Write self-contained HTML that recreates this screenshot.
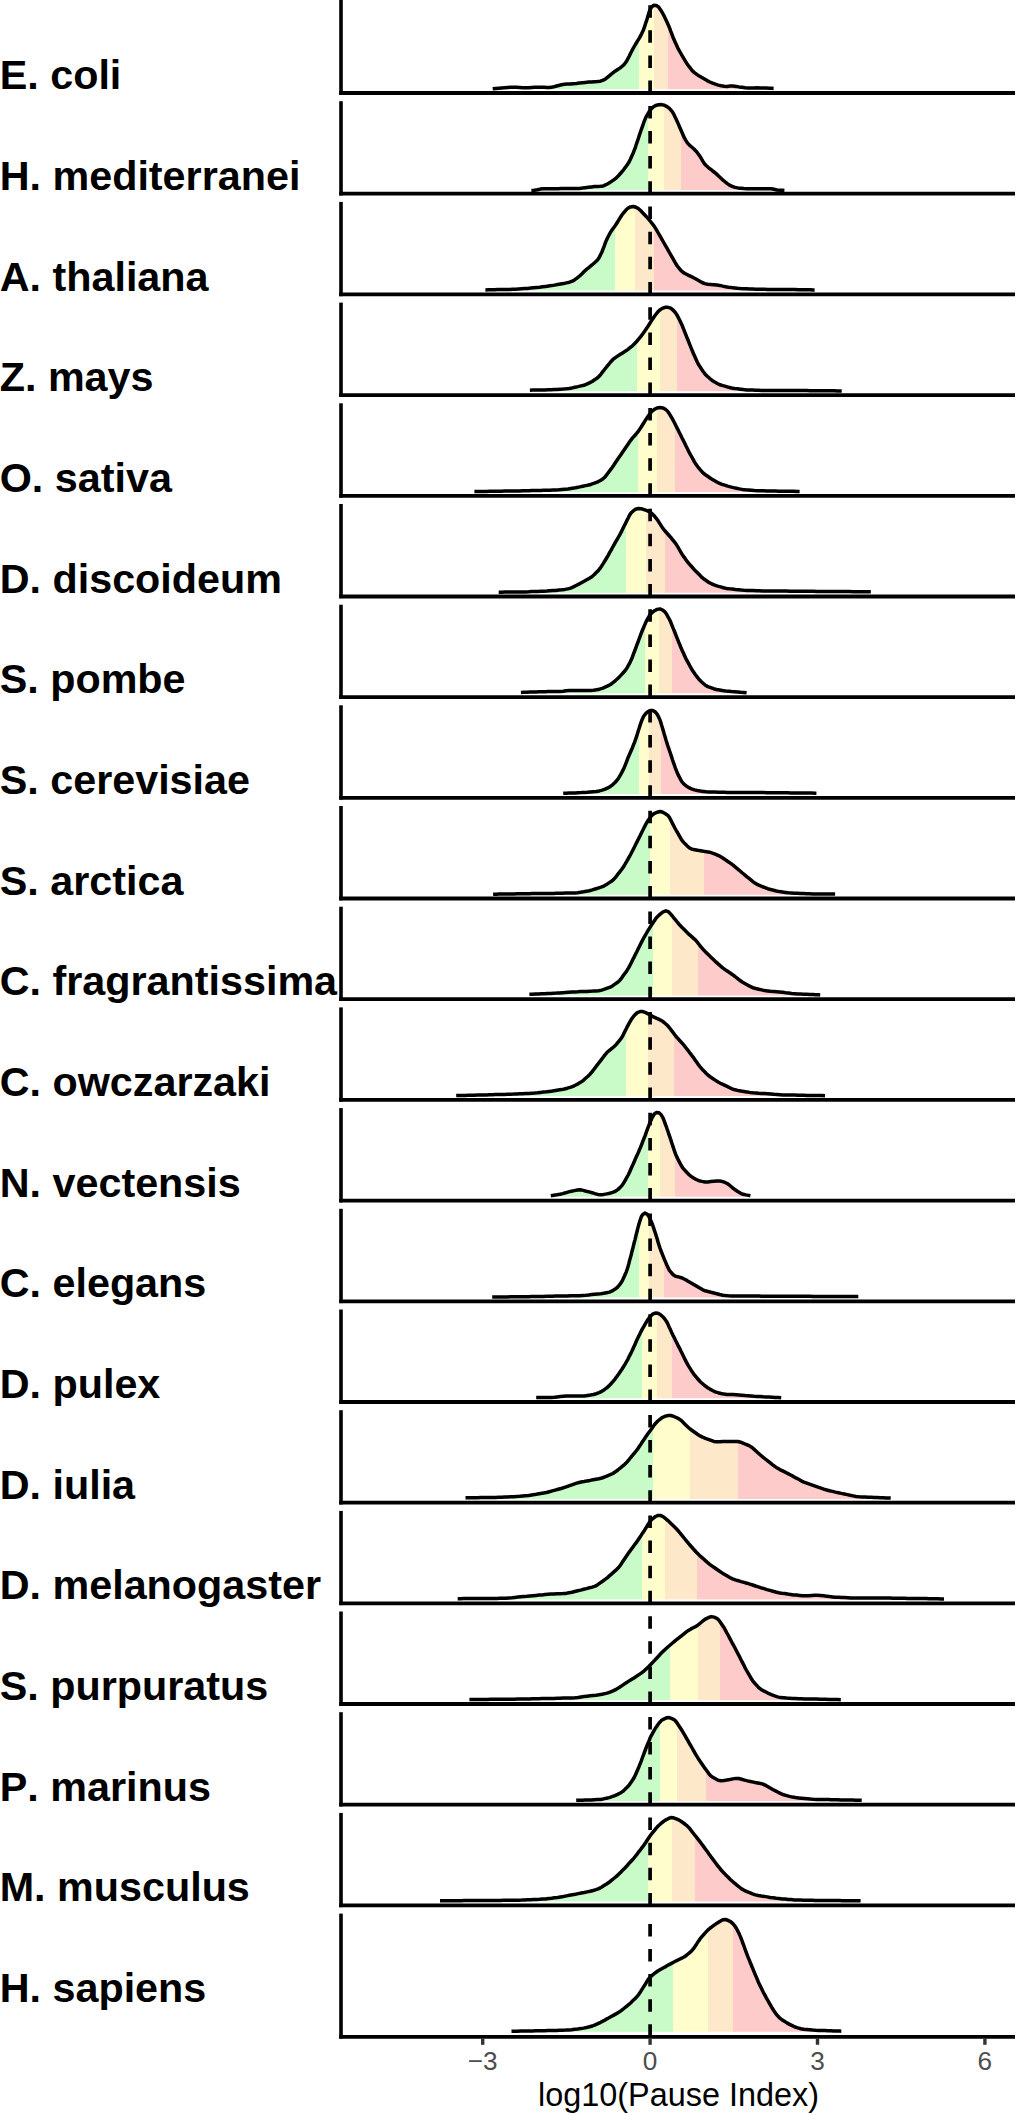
<!DOCTYPE html><html><head><meta charset="utf-8"><style>html,body{margin:0;padding:0;background:#fff;}svg{display:block;}text{font-family:"Liberation Sans",sans-serif;font-kerning:none;}</style></head><body>
<svg width="1016" height="2115" viewBox="0 0 1016 2115">
<rect width="1016" height="2115" fill="#fff"/>
<defs><linearGradient id="g0" gradientUnits="userSpaceOnUse" x1="341" y1="0" x2="1015" y2="0"><stop offset="0.00000" stop-color="#c9fbc9"/><stop offset="0.44214" stop-color="#c9fbc9"/><stop offset="0.44214" stop-color="#fffdcb"/><stop offset="0.46395" stop-color="#fffdcb"/><stop offset="0.46395" stop-color="#fde8c9"/><stop offset="0.48561" stop-color="#fde8c9"/><stop offset="0.48561" stop-color="#fecbcb"/><stop offset="1.00000" stop-color="#fecbcb"/></linearGradient><linearGradient id="g1" gradientUnits="userSpaceOnUse" x1="341" y1="0" x2="1015" y2="0"><stop offset="0.00000" stop-color="#c9fbc9"/><stop offset="0.45608" stop-color="#c9fbc9"/><stop offset="0.45608" stop-color="#fffdcb"/><stop offset="0.47938" stop-color="#fffdcb"/><stop offset="0.47938" stop-color="#fde8c9"/><stop offset="0.50490" stop-color="#fde8c9"/><stop offset="0.50490" stop-color="#fecbcb"/><stop offset="1.00000" stop-color="#fecbcb"/></linearGradient><linearGradient id="g2" gradientUnits="userSpaceOnUse" x1="341" y1="0" x2="1015" y2="0"><stop offset="0.00000" stop-color="#c9fbc9"/><stop offset="0.40697" stop-color="#c9fbc9"/><stop offset="0.40697" stop-color="#fffdcb"/><stop offset="0.43665" stop-color="#fffdcb"/><stop offset="0.43665" stop-color="#fde8c9"/><stop offset="0.46424" stop-color="#fde8c9"/><stop offset="0.46424" stop-color="#fecbcb"/><stop offset="1.00000" stop-color="#fecbcb"/></linearGradient><linearGradient id="g3" gradientUnits="userSpaceOnUse" x1="341" y1="0" x2="1015" y2="0"><stop offset="0.00000" stop-color="#c9fbc9"/><stop offset="0.43872" stop-color="#c9fbc9"/><stop offset="0.43872" stop-color="#fffdcb"/><stop offset="0.47344" stop-color="#fffdcb"/><stop offset="0.47344" stop-color="#fde8c9"/><stop offset="0.49896" stop-color="#fde8c9"/><stop offset="0.49896" stop-color="#fecbcb"/><stop offset="1.00000" stop-color="#fecbcb"/></linearGradient><linearGradient id="g4" gradientUnits="userSpaceOnUse" x1="341" y1="0" x2="1015" y2="0"><stop offset="0.00000" stop-color="#c9fbc9"/><stop offset="0.44139" stop-color="#c9fbc9"/><stop offset="0.44139" stop-color="#fffdcb"/><stop offset="0.46958" stop-color="#fffdcb"/><stop offset="0.46958" stop-color="#fde8c9"/><stop offset="0.49555" stop-color="#fde8c9"/><stop offset="0.49555" stop-color="#fecbcb"/><stop offset="1.00000" stop-color="#fecbcb"/></linearGradient><linearGradient id="g5" gradientUnits="userSpaceOnUse" x1="341" y1="0" x2="1015" y2="0"><stop offset="0.00000" stop-color="#c9fbc9"/><stop offset="0.42300" stop-color="#c9fbc9"/><stop offset="0.42300" stop-color="#fffdcb"/><stop offset="0.45193" stop-color="#fffdcb"/><stop offset="0.45193" stop-color="#fde8c9"/><stop offset="0.48145" stop-color="#fde8c9"/><stop offset="0.48145" stop-color="#fecbcb"/><stop offset="1.00000" stop-color="#fecbcb"/></linearGradient><linearGradient id="g6" gradientUnits="userSpaceOnUse" x1="341" y1="0" x2="1015" y2="0"><stop offset="0.00000" stop-color="#c9fbc9"/><stop offset="0.45045" stop-color="#c9fbc9"/><stop offset="0.45045" stop-color="#fffdcb"/><stop offset="0.47181" stop-color="#fffdcb"/><stop offset="0.47181" stop-color="#fde8c9"/><stop offset="0.49139" stop-color="#fde8c9"/><stop offset="0.49139" stop-color="#fecbcb"/><stop offset="1.00000" stop-color="#fecbcb"/></linearGradient><linearGradient id="g7" gradientUnits="userSpaceOnUse" x1="341" y1="0" x2="1015" y2="0"><stop offset="0.00000" stop-color="#c9fbc9"/><stop offset="0.44169" stop-color="#c9fbc9"/><stop offset="0.44169" stop-color="#fffdcb"/><stop offset="0.45742" stop-color="#fffdcb"/><stop offset="0.45742" stop-color="#fde8c9"/><stop offset="0.47404" stop-color="#fde8c9"/><stop offset="0.47404" stop-color="#fecbcb"/><stop offset="1.00000" stop-color="#fecbcb"/></linearGradient><linearGradient id="g8" gradientUnits="userSpaceOnUse" x1="341" y1="0" x2="1015" y2="0"><stop offset="0.00000" stop-color="#c9fbc9"/><stop offset="0.45846" stop-color="#c9fbc9"/><stop offset="0.45846" stop-color="#fffdcb"/><stop offset="0.48828" stop-color="#fffdcb"/><stop offset="0.48828" stop-color="#fde8c9"/><stop offset="0.53828" stop-color="#fde8c9"/><stop offset="0.53828" stop-color="#fecbcb"/><stop offset="1.00000" stop-color="#fecbcb"/></linearGradient><linearGradient id="g9" gradientUnits="userSpaceOnUse" x1="341" y1="0" x2="1015" y2="0"><stop offset="0.00000" stop-color="#c9fbc9"/><stop offset="0.46320" stop-color="#c9fbc9"/><stop offset="0.46320" stop-color="#fffdcb"/><stop offset="0.49125" stop-color="#fffdcb"/><stop offset="0.49125" stop-color="#fde8c9"/><stop offset="0.52967" stop-color="#fde8c9"/><stop offset="0.52967" stop-color="#fecbcb"/><stop offset="1.00000" stop-color="#fecbcb"/></linearGradient><linearGradient id="g10" gradientUnits="userSpaceOnUse" x1="341" y1="0" x2="1015" y2="0"><stop offset="0.00000" stop-color="#c9fbc9"/><stop offset="0.42300" stop-color="#c9fbc9"/><stop offset="0.42300" stop-color="#fffdcb"/><stop offset="0.45593" stop-color="#fffdcb"/><stop offset="0.45593" stop-color="#fde8c9"/><stop offset="0.49451" stop-color="#fde8c9"/><stop offset="0.49451" stop-color="#fecbcb"/><stop offset="1.00000" stop-color="#fecbcb"/></linearGradient><linearGradient id="g11" gradientUnits="userSpaceOnUse" x1="341" y1="0" x2="1015" y2="0"><stop offset="0.00000" stop-color="#c9fbc9"/><stop offset="0.45593" stop-color="#c9fbc9"/><stop offset="0.45593" stop-color="#fffdcb"/><stop offset="0.47300" stop-color="#fffdcb"/><stop offset="0.47300" stop-color="#fde8c9"/><stop offset="0.49599" stop-color="#fde8c9"/><stop offset="0.49599" stop-color="#fecbcb"/><stop offset="1.00000" stop-color="#fecbcb"/></linearGradient><linearGradient id="g12" gradientUnits="userSpaceOnUse" x1="341" y1="0" x2="1015" y2="0"><stop offset="0.00000" stop-color="#c9fbc9"/><stop offset="0.44199" stop-color="#c9fbc9"/><stop offset="0.44199" stop-color="#fffdcb"/><stop offset="0.45697" stop-color="#fffdcb"/><stop offset="0.45697" stop-color="#fde8c9"/><stop offset="0.47938" stop-color="#fde8c9"/><stop offset="0.47938" stop-color="#fecbcb"/><stop offset="1.00000" stop-color="#fecbcb"/></linearGradient><linearGradient id="g13" gradientUnits="userSpaceOnUse" x1="341" y1="0" x2="1015" y2="0"><stop offset="0.00000" stop-color="#c9fbc9"/><stop offset="0.44659" stop-color="#c9fbc9"/><stop offset="0.44659" stop-color="#fffdcb"/><stop offset="0.46899" stop-color="#fffdcb"/><stop offset="0.46899" stop-color="#fde8c9"/><stop offset="0.49110" stop-color="#fde8c9"/><stop offset="0.49110" stop-color="#fecbcb"/><stop offset="1.00000" stop-color="#fecbcb"/></linearGradient><linearGradient id="g14" gradientUnits="userSpaceOnUse" x1="341" y1="0" x2="1015" y2="0"><stop offset="0.00000" stop-color="#c9fbc9"/><stop offset="0.46335" stop-color="#c9fbc9"/><stop offset="0.46335" stop-color="#fffdcb"/><stop offset="0.51840" stop-color="#fffdcb"/><stop offset="0.51840" stop-color="#fde8c9"/><stop offset="0.58961" stop-color="#fde8c9"/><stop offset="0.58961" stop-color="#fecbcb"/><stop offset="1.00000" stop-color="#fecbcb"/></linearGradient><linearGradient id="g15" gradientUnits="userSpaceOnUse" x1="341" y1="0" x2="1015" y2="0"><stop offset="0.00000" stop-color="#c9fbc9"/><stop offset="0.44703" stop-color="#c9fbc9"/><stop offset="0.44703" stop-color="#fffdcb"/><stop offset="0.48145" stop-color="#fffdcb"/><stop offset="0.48145" stop-color="#fde8c9"/><stop offset="0.52819" stop-color="#fde8c9"/><stop offset="0.52819" stop-color="#fecbcb"/><stop offset="1.00000" stop-color="#fecbcb"/></linearGradient><linearGradient id="g16" gradientUnits="userSpaceOnUse" x1="341" y1="0" x2="1015" y2="0"><stop offset="0.00000" stop-color="#c9fbc9"/><stop offset="0.48813" stop-color="#c9fbc9"/><stop offset="0.48813" stop-color="#fffdcb"/><stop offset="0.53012" stop-color="#fffdcb"/><stop offset="0.53012" stop-color="#fde8c9"/><stop offset="0.56246" stop-color="#fde8c9"/><stop offset="0.56246" stop-color="#fecbcb"/><stop offset="1.00000" stop-color="#fecbcb"/></linearGradient><linearGradient id="g17" gradientUnits="userSpaceOnUse" x1="341" y1="0" x2="1015" y2="0"><stop offset="0.00000" stop-color="#c9fbc9"/><stop offset="0.47270" stop-color="#c9fbc9"/><stop offset="0.47270" stop-color="#fffdcb"/><stop offset="0.49852" stop-color="#fffdcb"/><stop offset="0.49852" stop-color="#fde8c9"/><stop offset="0.54184" stop-color="#fde8c9"/><stop offset="0.54184" stop-color="#fecbcb"/><stop offset="1.00000" stop-color="#fecbcb"/></linearGradient><linearGradient id="g18" gradientUnits="userSpaceOnUse" x1="341" y1="0" x2="1015" y2="0"><stop offset="0.00000" stop-color="#c9fbc9"/><stop offset="0.45564" stop-color="#c9fbc9"/><stop offset="0.45564" stop-color="#fffdcb"/><stop offset="0.49095" stop-color="#fffdcb"/><stop offset="0.49095" stop-color="#fde8c9"/><stop offset="0.52537" stop-color="#fde8c9"/><stop offset="0.52537" stop-color="#fecbcb"/><stop offset="1.00000" stop-color="#fecbcb"/></linearGradient><linearGradient id="g19" gradientUnits="userSpaceOnUse" x1="341" y1="0" x2="1015" y2="0"><stop offset="0.00000" stop-color="#c9fbc9"/><stop offset="0.49273" stop-color="#c9fbc9"/><stop offset="0.49273" stop-color="#fffdcb"/><stop offset="0.54466" stop-color="#fffdcb"/><stop offset="0.54466" stop-color="#fde8c9"/><stop offset="0.58160" stop-color="#fde8c9"/><stop offset="0.58160" stop-color="#fecbcb"/><stop offset="1.00000" stop-color="#fecbcb"/></linearGradient></defs>
<path d="M492.7,88.8 495.7,88.5 498.7,88.2 501.7,87.9 504.7,87.7 507.7,87.5 510.7,87.3 513.7,87.2 516.7,87.3 519.7,87.5 522.7,87.7 525.7,87.8 528.7,87.7 531.8,87.5 534.8,87.3 537.8,87.2 540.8,87.2 543.8,87.3 546.8,87.4 549.8,87.4 552.8,87.1 555.7,86.3 558.6,85.5 561.5,84.8 564.4,84.2 567.4,84.0 570.4,83.9 573.4,83.7 576.4,83.5 579.4,83.1 582.4,82.7 585.4,82.4 588.4,82.1 591.4,81.9 594.4,81.7 597.4,81.5 600.4,81.2 603.2,80.2 605.8,78.7 608.1,76.8 610.4,74.9 612.7,73.0 615.1,71.2 617.7,69.5 620.2,67.9 622.5,66.0 624.6,63.9 626.4,61.5 627.8,58.9 629.2,56.2 630.5,53.5 631.9,50.8 633.3,48.1 634.8,45.5 636.3,43.0 637.9,40.4 639.5,37.8 640.9,35.2 642.2,32.5 643.5,29.7 644.5,26.9 645.4,24.0 646.4,21.2 647.3,18.3 648.1,15.4 649.0,12.5 650.1,9.7 651.5,7.1 653.6,5.3 656.2,5.4 658.6,7.0 660.3,9.4 661.9,12.0 663.4,14.6 664.7,17.3 666.0,20.0 667.3,22.8 668.5,25.5 669.7,28.3 670.7,31.1 671.8,33.9 672.8,36.7 674.0,39.5 675.2,42.3 676.5,45.0 677.7,47.7 679.1,50.4 680.6,53.0 682.1,55.7 683.6,58.2 685.2,60.8 686.8,63.4 688.5,65.8 690.4,68.2 692.2,70.6 694.4,72.6 696.8,74.4 699.3,76.1 701.9,77.6 704.5,79.1 707.1,80.6 709.8,82.0 712.6,83.2 715.4,84.2 718.3,85.1 721.2,85.8 724.2,86.3 727.1,86.4 730.1,86.1 733.1,86.0 736.1,86.4 739.0,86.9 742.0,87.3 745.0,87.7 748.0,87.9 751.0,87.9 754.0,87.9 757.0,87.8 760.1,87.9 763.1,88.0 766.1,88.1 769.1,88.2 772.0,88.3 773.6,88.4 L773.6,89.2 L492.7,89.2 Z" fill="url(#g0)"/>
<line x1="650.1" y1="93.0" x2="650.1" y2="0.0" stroke="#000" stroke-width="3.7" stroke-dasharray="12.5 12.6"/>
<path d="M492.7,88.8 495.7,88.5 498.7,88.2 501.7,87.9 504.7,87.7 507.7,87.5 510.7,87.3 513.7,87.2 516.7,87.3 519.7,87.5 522.7,87.7 525.7,87.8 528.7,87.7 531.8,87.5 534.8,87.3 537.8,87.2 540.8,87.2 543.8,87.3 546.8,87.4 549.8,87.4 552.8,87.1 555.7,86.3 558.6,85.5 561.5,84.8 564.4,84.2 567.4,84.0 570.4,83.9 573.4,83.7 576.4,83.5 579.4,83.1 582.4,82.7 585.4,82.4 588.4,82.1 591.4,81.9 594.4,81.7 597.4,81.5 600.4,81.2 603.2,80.2 605.8,78.7 608.1,76.8 610.4,74.9 612.7,73.0 615.1,71.2 617.7,69.5 620.2,67.9 622.5,66.0 624.6,63.9 626.4,61.5 627.8,58.9 629.2,56.2 630.5,53.5 631.9,50.8 633.3,48.1 634.8,45.5 636.3,43.0 637.9,40.4 639.5,37.8 640.9,35.2 642.2,32.5 643.5,29.7 644.5,26.9 645.4,24.0 646.4,21.2 647.3,18.3 648.1,15.4 649.0,12.5 650.1,9.7 651.5,7.1 653.6,5.3 656.2,5.4 658.6,7.0 660.3,9.4 661.9,12.0 663.4,14.6 664.7,17.3 666.0,20.0 667.3,22.8 668.5,25.5 669.7,28.3 670.7,31.1 671.8,33.9 672.8,36.7 674.0,39.5 675.2,42.3 676.5,45.0 677.7,47.7 679.1,50.4 680.6,53.0 682.1,55.7 683.6,58.2 685.2,60.8 686.8,63.4 688.5,65.8 690.4,68.2 692.2,70.6 694.4,72.6 696.8,74.4 699.3,76.1 701.9,77.6 704.5,79.1 707.1,80.6 709.8,82.0 712.6,83.2 715.4,84.2 718.3,85.1 721.2,85.8 724.2,86.3 727.1,86.4 730.1,86.1 733.1,86.0 736.1,86.4 739.0,86.9 742.0,87.3 745.0,87.7 748.0,87.9 751.0,87.9 754.0,87.9 757.0,87.8 760.1,87.9 763.1,88.0 766.1,88.1 769.1,88.2 772.0,88.3 773.6,88.4" fill="none" stroke="#000" stroke-width="3.5" stroke-linejoin="round" stroke-linecap="butt"/>
<line x1="341" y1="0.0" x2="341" y2="94.8" stroke="#000" stroke-width="3.6"/>
<line x1="339.2" y1="93.0" x2="1015" y2="93.0" stroke="#000" stroke-width="3.8"/>
<text x="-0.3" y="89.4" font-size="41.3" font-weight="bold" fill="#000">E. coli</text>
<path d="M531.4,190.4 534.4,190.3 537.4,189.8 540.3,189.1 543.2,188.8 546.3,188.7 549.3,188.7 552.3,188.7 555.3,188.7 558.3,188.7 561.3,188.6 564.3,188.6 567.4,188.6 570.4,188.6 573.4,188.5 576.4,188.5 579.4,188.4 582.4,188.1 585.4,187.7 588.4,187.3 591.4,186.9 594.4,186.6 597.4,186.4 600.4,186.3 603.3,185.9 606.0,184.7 608.7,183.3 611.2,181.6 613.7,179.9 616.1,178.1 618.2,176.0 620.2,173.8 622.2,171.5 624.1,169.1 625.8,166.7 627.6,164.2 629.2,161.7 630.5,159.0 631.7,156.3 633.0,153.5 634.1,150.7 635.2,147.9 636.1,145.0 637.1,142.2 638.1,139.3 639.0,136.5 639.9,133.6 640.9,130.7 641.9,127.9 642.9,125.1 643.9,122.2 645.0,119.4 646.2,116.7 647.7,114.1 649.3,111.5 651.1,109.1 653.2,107.0 655.7,105.5 658.6,104.7 661.5,104.6 664.4,105.2 667.0,106.6 669.4,108.4 671.4,110.6 673.1,113.1 674.5,115.7 675.8,118.4 677.1,121.2 678.3,123.9 679.5,126.7 680.7,129.5 681.9,132.2 683.1,135.0 684.3,137.7 685.8,140.4 687.4,142.9 689.4,145.1 691.7,147.0 694.0,149.0 696.1,151.2 697.9,153.5 699.7,155.9 701.3,158.5 702.8,161.1 704.4,163.7 706.4,165.8 708.7,167.8 711.1,169.7 713.4,171.5 715.8,173.4 718.0,175.4 720.2,177.5 722.4,179.6 724.7,181.5 727.0,183.4 729.5,185.1 732.2,186.4 735.0,187.4 737.9,187.9 740.9,188.2 743.9,188.5 746.9,188.7 750.0,188.8 753.0,188.8 756.0,188.8 759.0,188.8 762.0,188.8 765.0,188.8 768.0,188.8 771.0,188.8 774.0,189.3 776.9,190.0 779.9,190.2 782.8,190.3 784.4,190.4 L784.4,189.9 L531.4,189.9 Z" fill="url(#g1)"/>
<line x1="650.1" y1="193.7" x2="650.1" y2="101.2" stroke="#000" stroke-width="3.7" stroke-dasharray="12.5 12.6"/>
<path d="M531.4,190.4 534.4,190.3 537.4,189.8 540.3,189.1 543.2,188.8 546.3,188.7 549.3,188.7 552.3,188.7 555.3,188.7 558.3,188.7 561.3,188.6 564.3,188.6 567.4,188.6 570.4,188.6 573.4,188.5 576.4,188.5 579.4,188.4 582.4,188.1 585.4,187.7 588.4,187.3 591.4,186.9 594.4,186.6 597.4,186.4 600.4,186.3 603.3,185.9 606.0,184.7 608.7,183.3 611.2,181.6 613.7,179.9 616.1,178.1 618.2,176.0 620.2,173.8 622.2,171.5 624.1,169.1 625.8,166.7 627.6,164.2 629.2,161.7 630.5,159.0 631.7,156.3 633.0,153.5 634.1,150.7 635.2,147.9 636.1,145.0 637.1,142.2 638.1,139.3 639.0,136.5 639.9,133.6 640.9,130.7 641.9,127.9 642.9,125.1 643.9,122.2 645.0,119.4 646.2,116.7 647.7,114.1 649.3,111.5 651.1,109.1 653.2,107.0 655.7,105.5 658.6,104.7 661.5,104.6 664.4,105.2 667.0,106.6 669.4,108.4 671.4,110.6 673.1,113.1 674.5,115.7 675.8,118.4 677.1,121.2 678.3,123.9 679.5,126.7 680.7,129.5 681.9,132.2 683.1,135.0 684.3,137.7 685.8,140.4 687.4,142.9 689.4,145.1 691.7,147.0 694.0,149.0 696.1,151.2 697.9,153.5 699.7,155.9 701.3,158.5 702.8,161.1 704.4,163.7 706.4,165.8 708.7,167.8 711.1,169.7 713.4,171.5 715.8,173.4 718.0,175.4 720.2,177.5 722.4,179.6 724.7,181.5 727.0,183.4 729.5,185.1 732.2,186.4 735.0,187.4 737.9,187.9 740.9,188.2 743.9,188.5 746.9,188.7 750.0,188.8 753.0,188.8 756.0,188.8 759.0,188.8 762.0,188.8 765.0,188.8 768.0,188.8 771.0,188.8 774.0,189.3 776.9,190.0 779.9,190.2 782.8,190.3 784.4,190.4" fill="none" stroke="#000" stroke-width="3.5" stroke-linejoin="round" stroke-linecap="butt"/>
<line x1="341" y1="101.2" x2="341" y2="195.5" stroke="#000" stroke-width="3.6"/>
<line x1="339.2" y1="193.7" x2="1015" y2="193.7" stroke="#000" stroke-width="3.8"/>
<text x="-0.3" y="190.1" font-size="41.3" font-weight="bold" fill="#000">H. mediterranei</text>
<path d="M485.4,289.9 488.4,289.8 491.4,289.8 494.5,289.7 497.5,289.6 500.5,289.6 503.5,289.5 506.5,289.5 509.6,289.4 512.6,289.3 515.6,289.2 518.6,289.0 521.6,288.8 524.6,288.6 527.7,288.4 530.7,288.1 533.7,287.8 536.7,287.5 539.7,287.2 542.7,286.8 545.7,286.4 548.7,286.0 551.7,285.6 554.6,285.1 557.6,284.6 560.6,284.1 563.6,283.6 566.5,282.9 569.5,282.2 572.3,281.2 574.8,279.7 577.3,277.9 579.6,276.0 581.8,273.9 583.9,271.8 586.1,269.7 588.5,267.8 590.8,265.9 593.1,264.0 595.4,262.0 597.5,259.9 599.2,257.4 600.5,254.7 601.9,252.0 603.0,249.2 604.1,246.4 605.1,243.5 606.2,240.7 607.5,238.0 608.9,235.3 610.3,232.7 611.9,230.1 613.7,227.7 615.5,225.2 617.1,222.7 618.7,220.1 620.3,217.5 621.9,215.0 623.8,212.6 625.7,210.3 627.9,208.3 630.5,206.9 633.3,206.5 636.0,207.3 638.6,208.8 640.8,210.8 642.9,213.0 645.0,215.2 647.0,217.4 649.0,219.7 650.9,222.0 652.8,224.4 654.6,226.8 656.2,229.4 657.7,232.0 659.2,234.6 660.7,237.2 662.2,239.9 663.7,242.5 665.2,245.1 666.7,247.7 668.2,250.4 669.7,253.0 671.2,255.6 672.7,258.2 674.2,260.8 675.7,263.5 677.3,266.0 679.2,268.4 681.1,270.7 683.4,272.6 686.0,274.0 688.7,275.4 691.4,276.7 694.1,278.0 696.8,279.5 699.4,281.0 702.0,282.5 704.8,283.6 707.7,284.3 710.7,284.5 713.7,284.7 716.7,284.9 719.7,285.4 722.7,286.1 725.6,286.7 728.6,287.2 731.6,287.6 734.6,287.9 737.6,288.3 740.6,288.6 743.6,288.7 746.6,288.8 749.6,289.0 752.7,289.1 755.7,289.2 758.7,289.3 761.7,289.3 764.8,289.3 767.8,289.4 770.8,289.4 773.8,289.4 776.8,289.4 779.9,289.5 782.9,289.5 785.9,289.5 788.9,289.6 791.9,289.6 795.0,289.6 798.0,289.7 801.0,289.7 804.0,289.8 807.0,289.8 810.1,289.8 813.0,289.9 814.6,289.9 L814.6,290.6 L485.4,290.6 Z" fill="url(#g2)"/>
<line x1="650.1" y1="294.4" x2="650.1" y2="201.9" stroke="#000" stroke-width="3.7" stroke-dasharray="12.5 12.6"/>
<path d="M485.4,289.9 488.4,289.8 491.4,289.8 494.5,289.7 497.5,289.6 500.5,289.6 503.5,289.5 506.5,289.5 509.6,289.4 512.6,289.3 515.6,289.2 518.6,289.0 521.6,288.8 524.6,288.6 527.7,288.4 530.7,288.1 533.7,287.8 536.7,287.5 539.7,287.2 542.7,286.8 545.7,286.4 548.7,286.0 551.7,285.6 554.6,285.1 557.6,284.6 560.6,284.1 563.6,283.6 566.5,282.9 569.5,282.2 572.3,281.2 574.8,279.7 577.3,277.9 579.6,276.0 581.8,273.9 583.9,271.8 586.1,269.7 588.5,267.8 590.8,265.9 593.1,264.0 595.4,262.0 597.5,259.9 599.2,257.4 600.5,254.7 601.9,252.0 603.0,249.2 604.1,246.4 605.1,243.5 606.2,240.7 607.5,238.0 608.9,235.3 610.3,232.7 611.9,230.1 613.7,227.7 615.5,225.2 617.1,222.7 618.7,220.1 620.3,217.5 621.9,215.0 623.8,212.6 625.7,210.3 627.9,208.3 630.5,206.9 633.3,206.5 636.0,207.3 638.6,208.8 640.8,210.8 642.9,213.0 645.0,215.2 647.0,217.4 649.0,219.7 650.9,222.0 652.8,224.4 654.6,226.8 656.2,229.4 657.7,232.0 659.2,234.6 660.7,237.2 662.2,239.9 663.7,242.5 665.2,245.1 666.7,247.7 668.2,250.4 669.7,253.0 671.2,255.6 672.7,258.2 674.2,260.8 675.7,263.5 677.3,266.0 679.2,268.4 681.1,270.7 683.4,272.6 686.0,274.0 688.7,275.4 691.4,276.7 694.1,278.0 696.8,279.5 699.4,281.0 702.0,282.5 704.8,283.6 707.7,284.3 710.7,284.5 713.7,284.7 716.7,284.9 719.7,285.4 722.7,286.1 725.6,286.7 728.6,287.2 731.6,287.6 734.6,287.9 737.6,288.3 740.6,288.6 743.6,288.7 746.6,288.8 749.6,289.0 752.7,289.1 755.7,289.2 758.7,289.3 761.7,289.3 764.8,289.3 767.8,289.4 770.8,289.4 773.8,289.4 776.8,289.4 779.9,289.5 782.9,289.5 785.9,289.5 788.9,289.6 791.9,289.6 795.0,289.6 798.0,289.7 801.0,289.7 804.0,289.8 807.0,289.8 810.1,289.8 813.0,289.9 814.6,289.9" fill="none" stroke="#000" stroke-width="3.5" stroke-linejoin="round" stroke-linecap="butt"/>
<line x1="341" y1="201.9" x2="341" y2="296.2" stroke="#000" stroke-width="3.6"/>
<line x1="339.2" y1="294.4" x2="1015" y2="294.4" stroke="#000" stroke-width="3.8"/>
<text x="-0.3" y="290.7" font-size="41.3" font-weight="bold" fill="#000">A. thaliana</text>
<path d="M529.9,390.2 532.9,390.1 535.9,390.1 539.0,390.0 542.0,390.0 545.0,389.9 548.0,389.8 551.1,389.7 554.1,389.6 557.1,389.5 560.1,389.3 563.1,389.1 566.1,388.8 569.1,388.4 572.1,387.9 575.0,387.2 578.0,386.6 581.0,385.9 583.9,385.3 586.7,384.2 589.4,382.9 592.1,381.5 594.6,379.8 597.1,378.1 599.3,376.1 601.2,373.8 603.0,371.4 604.9,369.0 606.8,366.6 608.7,364.3 610.6,362.0 612.7,359.7 615.0,357.9 617.5,356.1 620.0,354.5 622.6,352.9 625.2,351.3 627.7,349.6 630.0,347.7 632.4,345.8 634.5,343.7 636.6,341.5 638.6,339.2 640.5,336.9 642.3,334.5 644.1,332.0 645.8,329.6 647.5,327.1 649.1,324.5 650.7,322.0 652.3,319.4 654.0,316.9 655.8,314.5 657.7,312.1 659.8,310.0 662.3,308.4 665.1,307.3 668.0,307.3 670.7,308.2 673.0,310.0 675.1,312.2 676.8,314.7 678.2,317.3 679.6,320.0 680.9,322.7 682.2,325.5 683.3,328.3 684.4,331.1 685.5,333.9 686.6,336.7 687.8,339.5 688.9,342.3 690.0,345.1 691.1,347.9 692.3,350.7 693.4,353.5 694.7,356.3 695.9,359.0 697.1,361.8 698.5,364.5 700.2,367.0 701.8,369.5 703.5,372.0 705.4,374.4 707.6,376.5 709.8,378.5 712.1,380.4 714.7,382.0 717.3,383.5 720.0,384.8 722.8,385.6 725.7,386.4 728.6,387.3 731.5,388.0 734.5,388.5 737.5,388.8 740.5,389.2 743.5,389.6 746.5,389.9 749.5,390.1 752.5,390.1 755.6,390.2 758.6,390.3 761.6,390.4 764.6,390.4 767.6,390.5 770.7,390.6 773.7,390.6 776.7,390.6 779.7,390.6 782.8,390.6 785.8,390.6 788.8,390.6 791.8,390.6 794.8,390.6 797.9,390.6 800.9,390.6 803.9,390.6 806.9,390.6 810.0,390.7 813.0,390.7 816.0,390.7 819.0,390.7 822.1,390.8 825.1,390.8 828.1,390.8 831.1,390.8 834.1,390.8 837.2,390.9 840.1,390.9 841.7,390.9 L841.7,391.3 L529.9,391.3 Z" fill="url(#g3)"/>
<line x1="650.1" y1="395.1" x2="650.1" y2="302.6" stroke="#000" stroke-width="3.7" stroke-dasharray="12.5 12.6"/>
<path d="M529.9,390.2 532.9,390.1 535.9,390.1 539.0,390.0 542.0,390.0 545.0,389.9 548.0,389.8 551.1,389.7 554.1,389.6 557.1,389.5 560.1,389.3 563.1,389.1 566.1,388.8 569.1,388.4 572.1,387.9 575.0,387.2 578.0,386.6 581.0,385.9 583.9,385.3 586.7,384.2 589.4,382.9 592.1,381.5 594.6,379.8 597.1,378.1 599.3,376.1 601.2,373.8 603.0,371.4 604.9,369.0 606.8,366.6 608.7,364.3 610.6,362.0 612.7,359.7 615.0,357.9 617.5,356.1 620.0,354.5 622.6,352.9 625.2,351.3 627.7,349.6 630.0,347.7 632.4,345.8 634.5,343.7 636.6,341.5 638.6,339.2 640.5,336.9 642.3,334.5 644.1,332.0 645.8,329.6 647.5,327.1 649.1,324.5 650.7,322.0 652.3,319.4 654.0,316.9 655.8,314.5 657.7,312.1 659.8,310.0 662.3,308.4 665.1,307.3 668.0,307.3 670.7,308.2 673.0,310.0 675.1,312.2 676.8,314.7 678.2,317.3 679.6,320.0 680.9,322.7 682.2,325.5 683.3,328.3 684.4,331.1 685.5,333.9 686.6,336.7 687.8,339.5 688.9,342.3 690.0,345.1 691.1,347.9 692.3,350.7 693.4,353.5 694.7,356.3 695.9,359.0 697.1,361.8 698.5,364.5 700.2,367.0 701.8,369.5 703.5,372.0 705.4,374.4 707.6,376.5 709.8,378.5 712.1,380.4 714.7,382.0 717.3,383.5 720.0,384.8 722.8,385.6 725.7,386.4 728.6,387.3 731.5,388.0 734.5,388.5 737.5,388.8 740.5,389.2 743.5,389.6 746.5,389.9 749.5,390.1 752.5,390.1 755.6,390.2 758.6,390.3 761.6,390.4 764.6,390.4 767.6,390.5 770.7,390.6 773.7,390.6 776.7,390.6 779.7,390.6 782.8,390.6 785.8,390.6 788.8,390.6 791.8,390.6 794.8,390.6 797.9,390.6 800.9,390.6 803.9,390.6 806.9,390.6 810.0,390.7 813.0,390.7 816.0,390.7 819.0,390.7 822.1,390.8 825.1,390.8 828.1,390.8 831.1,390.8 834.1,390.8 837.2,390.9 840.1,390.9 841.7,390.9" fill="none" stroke="#000" stroke-width="3.5" stroke-linejoin="round" stroke-linecap="butt"/>
<line x1="341" y1="302.6" x2="341" y2="396.9" stroke="#000" stroke-width="3.6"/>
<line x1="339.2" y1="395.1" x2="1015" y2="395.1" stroke="#000" stroke-width="3.8"/>
<text x="-0.3" y="391.4" font-size="41.3" font-weight="bold" fill="#000">Z. mays</text>
<path d="M474.4,491.5 477.4,491.5 480.4,491.4 483.5,491.4 486.5,491.4 489.5,491.3 492.5,491.3 495.5,491.3 498.5,491.2 501.6,491.2 504.6,491.1 507.6,491.1 510.6,491.0 513.6,491.0 516.6,490.9 519.7,490.9 522.7,490.8 525.7,490.7 528.7,490.7 531.7,490.6 534.7,490.6 537.8,490.5 540.8,490.4 543.8,490.3 546.8,490.2 549.8,490.2 552.9,490.1 555.9,490.0 558.9,489.8 561.9,489.5 564.9,489.2 567.9,488.9 570.9,488.5 573.9,488.1 576.8,487.5 579.8,486.9 582.7,486.2 585.7,485.6 588.6,485.0 591.5,484.2 594.4,483.2 597.2,482.1 599.9,480.7 602.5,479.2 604.7,477.3 606.6,474.9 608.4,472.5 610.2,470.1 612.0,467.7 613.7,465.2 615.3,462.7 617.0,460.2 618.7,457.7 620.5,455.2 622.2,452.7 623.9,450.3 625.6,447.8 627.3,445.3 629.0,442.7 630.7,440.3 632.6,437.9 634.6,435.7 636.6,433.4 638.5,431.1 640.2,428.6 641.8,426.0 643.4,423.5 645.0,420.9 646.6,418.4 648.3,415.9 650.0,413.4 652.1,411.2 654.4,409.4 657.0,408.0 659.9,407.5 662.8,407.9 665.4,409.3 667.6,411.2 669.3,413.7 670.9,416.3 672.4,418.9 673.8,421.5 675.2,424.2 676.5,426.9 677.9,429.6 679.2,432.3 680.6,435.0 681.9,437.7 683.3,440.4 684.6,443.1 685.9,445.8 687.3,448.5 688.6,451.2 690.0,453.9 691.5,456.5 693.0,459.2 694.4,461.8 696.0,464.4 697.8,466.8 699.7,469.1 701.7,471.4 703.8,473.5 706.2,475.3 708.7,477.0 711.2,478.7 713.8,480.2 716.4,481.7 719.1,483.2 721.9,484.3 724.7,485.2 727.6,486.1 730.5,486.9 733.5,487.6 736.4,488.2 739.4,488.9 742.3,489.4 745.3,489.8 748.3,490.0 751.3,490.3 754.3,490.6 757.4,490.7 760.4,490.8 763.4,490.8 766.4,490.9 769.4,491.0 772.4,491.1 775.5,491.1 778.5,491.2 781.5,491.2 784.5,491.2 787.5,491.3 790.5,491.3 793.6,491.3 796.6,491.4 799.6,491.4 L799.6,492.0 L474.4,492.0 Z" fill="url(#g4)"/>
<line x1="650.1" y1="495.8" x2="650.1" y2="403.3" stroke="#000" stroke-width="3.7" stroke-dasharray="12.5 12.6"/>
<path d="M474.4,491.5 477.4,491.5 480.4,491.4 483.5,491.4 486.5,491.4 489.5,491.3 492.5,491.3 495.5,491.3 498.5,491.2 501.6,491.2 504.6,491.1 507.6,491.1 510.6,491.0 513.6,491.0 516.6,490.9 519.7,490.9 522.7,490.8 525.7,490.7 528.7,490.7 531.7,490.6 534.7,490.6 537.8,490.5 540.8,490.4 543.8,490.3 546.8,490.2 549.8,490.2 552.9,490.1 555.9,490.0 558.9,489.8 561.9,489.5 564.9,489.2 567.9,488.9 570.9,488.5 573.9,488.1 576.8,487.5 579.8,486.9 582.7,486.2 585.7,485.6 588.6,485.0 591.5,484.2 594.4,483.2 597.2,482.1 599.9,480.7 602.5,479.2 604.7,477.3 606.6,474.9 608.4,472.5 610.2,470.1 612.0,467.7 613.7,465.2 615.3,462.7 617.0,460.2 618.7,457.7 620.5,455.2 622.2,452.7 623.9,450.3 625.6,447.8 627.3,445.3 629.0,442.7 630.7,440.3 632.6,437.9 634.6,435.7 636.6,433.4 638.5,431.1 640.2,428.6 641.8,426.0 643.4,423.5 645.0,420.9 646.6,418.4 648.3,415.9 650.0,413.4 652.1,411.2 654.4,409.4 657.0,408.0 659.9,407.5 662.8,407.9 665.4,409.3 667.6,411.2 669.3,413.7 670.9,416.3 672.4,418.9 673.8,421.5 675.2,424.2 676.5,426.9 677.9,429.6 679.2,432.3 680.6,435.0 681.9,437.7 683.3,440.4 684.6,443.1 685.9,445.8 687.3,448.5 688.6,451.2 690.0,453.9 691.5,456.5 693.0,459.2 694.4,461.8 696.0,464.4 697.8,466.8 699.7,469.1 701.7,471.4 703.8,473.5 706.2,475.3 708.7,477.0 711.2,478.7 713.8,480.2 716.4,481.7 719.1,483.2 721.9,484.3 724.7,485.2 727.6,486.1 730.5,486.9 733.5,487.6 736.4,488.2 739.4,488.9 742.3,489.4 745.3,489.8 748.3,490.0 751.3,490.3 754.3,490.6 757.4,490.7 760.4,490.8 763.4,490.8 766.4,490.9 769.4,491.0 772.4,491.1 775.5,491.1 778.5,491.2 781.5,491.2 784.5,491.2 787.5,491.3 790.5,491.3 793.6,491.3 796.6,491.4 799.6,491.4" fill="none" stroke="#000" stroke-width="3.5" stroke-linejoin="round" stroke-linecap="butt"/>
<line x1="341" y1="403.3" x2="341" y2="497.6" stroke="#000" stroke-width="3.6"/>
<line x1="339.2" y1="495.8" x2="1015" y2="495.8" stroke="#000" stroke-width="3.8"/>
<text x="-0.3" y="492.0" font-size="41.3" font-weight="bold" fill="#000">O. sativa</text>
<path d="M498.7,592.2 501.7,592.2 504.7,592.1 507.7,592.1 510.7,592.1 513.8,592.1 516.8,592.0 519.8,592.0 522.8,592.0 525.8,591.9 528.8,591.8 531.8,591.6 534.8,591.5 537.8,591.4 540.9,591.3 543.9,591.2 546.9,591.1 549.9,590.8 552.9,590.6 555.9,590.4 558.9,590.1 561.9,589.8 564.9,589.4 567.8,588.9 570.7,588.1 573.4,586.9 576.1,585.5 578.8,584.1 581.4,582.7 584.1,581.3 586.7,579.8 589.4,578.3 591.9,576.7 594.1,574.8 596.3,572.6 598.4,570.5 600.2,568.2 601.9,565.6 603.5,563.1 605.1,560.5 606.6,558.0 608.2,555.3 609.6,552.7 611.1,550.1 612.5,547.5 614.0,544.8 615.5,542.2 617.0,539.6 618.5,537.0 620.0,534.3 621.4,531.7 622.7,529.0 624.0,526.3 625.4,523.6 626.7,520.9 628.1,518.2 629.4,515.5 631.0,513.0 633.2,510.9 635.6,509.3 638.4,508.5 641.3,508.8 644.1,509.6 647.0,510.7 649.7,511.9 652.1,513.6 654.1,515.8 656.1,518.1 657.9,520.5 659.5,523.1 661.1,525.6 662.7,528.2 664.6,530.5 666.6,532.7 668.6,535.0 670.6,537.2 672.5,539.6 674.4,541.9 676.2,544.3 677.8,546.9 679.3,549.5 680.8,552.1 682.3,554.7 684.1,557.1 685.8,559.6 687.6,562.0 689.6,564.3 691.6,566.5 693.6,568.8 695.6,571.0 697.7,573.1 699.9,575.3 702.0,577.4 704.3,579.3 706.8,581.0 709.3,582.7 712.0,584.0 714.8,585.1 717.6,586.1 720.5,586.9 723.4,587.7 726.3,588.4 729.3,588.8 732.3,589.1 735.3,589.5 738.3,589.8 741.3,590.1 744.3,590.3 747.3,590.4 750.3,590.5 753.3,590.6 756.4,590.7 759.4,590.8 762.4,590.9 765.4,590.9 768.4,591.0 771.4,591.0 774.4,591.1 777.4,591.1 780.4,591.1 783.5,591.1 786.5,591.1 789.5,591.2 792.5,591.2 795.5,591.2 798.5,591.2 801.5,591.3 804.5,591.3 807.5,591.3 810.6,591.3 813.6,591.3 816.6,591.4 819.6,591.4 822.6,591.4 825.6,591.4 828.6,591.5 831.6,591.5 834.7,591.5 837.7,591.5 840.7,591.6 843.7,591.6 846.7,591.6 849.7,591.6 852.7,591.7 855.7,591.7 858.8,591.7 861.8,591.7 864.8,591.8 867.8,591.8 870.8,591.8 L870.8,592.7 L498.7,592.7 Z" fill="url(#g5)"/>
<line x1="650.1" y1="596.5" x2="650.1" y2="504.0" stroke="#000" stroke-width="3.7" stroke-dasharray="12.5 12.6"/>
<path d="M498.7,592.2 501.7,592.2 504.7,592.1 507.7,592.1 510.7,592.1 513.8,592.1 516.8,592.0 519.8,592.0 522.8,592.0 525.8,591.9 528.8,591.8 531.8,591.6 534.8,591.5 537.8,591.4 540.9,591.3 543.9,591.2 546.9,591.1 549.9,590.8 552.9,590.6 555.9,590.4 558.9,590.1 561.9,589.8 564.9,589.4 567.8,588.9 570.7,588.1 573.4,586.9 576.1,585.5 578.8,584.1 581.4,582.7 584.1,581.3 586.7,579.8 589.4,578.3 591.9,576.7 594.1,574.8 596.3,572.6 598.4,570.5 600.2,568.2 601.9,565.6 603.5,563.1 605.1,560.5 606.6,558.0 608.2,555.3 609.6,552.7 611.1,550.1 612.5,547.5 614.0,544.8 615.5,542.2 617.0,539.6 618.5,537.0 620.0,534.3 621.4,531.7 622.7,529.0 624.0,526.3 625.4,523.6 626.7,520.9 628.1,518.2 629.4,515.5 631.0,513.0 633.2,510.9 635.6,509.3 638.4,508.5 641.3,508.8 644.1,509.6 647.0,510.7 649.7,511.9 652.1,513.6 654.1,515.8 656.1,518.1 657.9,520.5 659.5,523.1 661.1,525.6 662.7,528.2 664.6,530.5 666.6,532.7 668.6,535.0 670.6,537.2 672.5,539.6 674.4,541.9 676.2,544.3 677.8,546.9 679.3,549.5 680.8,552.1 682.3,554.7 684.1,557.1 685.8,559.6 687.6,562.0 689.6,564.3 691.6,566.5 693.6,568.8 695.6,571.0 697.7,573.1 699.9,575.3 702.0,577.4 704.3,579.3 706.8,581.0 709.3,582.7 712.0,584.0 714.8,585.1 717.6,586.1 720.5,586.9 723.4,587.7 726.3,588.4 729.3,588.8 732.3,589.1 735.3,589.5 738.3,589.8 741.3,590.1 744.3,590.3 747.3,590.4 750.3,590.5 753.3,590.6 756.4,590.7 759.4,590.8 762.4,590.9 765.4,590.9 768.4,591.0 771.4,591.0 774.4,591.1 777.4,591.1 780.4,591.1 783.5,591.1 786.5,591.1 789.5,591.2 792.5,591.2 795.5,591.2 798.5,591.2 801.5,591.3 804.5,591.3 807.5,591.3 810.6,591.3 813.6,591.3 816.6,591.4 819.6,591.4 822.6,591.4 825.6,591.4 828.6,591.5 831.6,591.5 834.7,591.5 837.7,591.5 840.7,591.6 843.7,591.6 846.7,591.6 849.7,591.6 852.7,591.7 855.7,591.7 858.8,591.7 861.8,591.7 864.8,591.8 867.8,591.8 870.8,591.8" fill="none" stroke="#000" stroke-width="3.5" stroke-linejoin="round" stroke-linecap="butt"/>
<line x1="341" y1="504.0" x2="341" y2="598.2" stroke="#000" stroke-width="3.6"/>
<line x1="339.2" y1="596.5" x2="1015" y2="596.5" stroke="#000" stroke-width="3.8"/>
<text x="-0.3" y="592.6" font-size="41.3" font-weight="bold" fill="#000">D. discoideum</text>
<path d="M520.9,692.4 523.9,692.3 526.9,692.2 530.0,692.1 533.0,692.0 536.0,691.9 539.0,691.8 542.1,691.7 545.1,691.7 548.1,691.6 551.2,691.6 554.2,691.6 557.2,691.6 560.2,691.5 563.2,691.2 566.2,690.8 569.2,690.6 572.3,690.5 575.3,690.5 578.3,690.5 581.4,690.5 584.4,690.5 587.4,690.4 590.4,690.4 593.4,690.2 596.4,689.8 599.4,689.2 602.3,688.3 605.0,687.1 607.8,685.9 610.5,684.5 612.9,682.7 615.2,680.8 617.5,678.8 619.6,676.6 621.7,674.4 623.7,672.2 625.7,669.9 627.3,667.3 628.8,664.7 630.2,662.1 631.5,659.3 632.6,656.5 633.6,653.7 634.7,650.8 635.8,648.0 636.8,645.2 637.9,642.3 638.9,639.5 640.0,636.6 641.0,633.8 642.1,631.0 643.3,628.2 644.5,625.4 645.7,622.6 647.0,619.9 648.5,617.3 650.0,614.7 652.1,612.6 654.5,610.7 657.1,609.4 660.0,608.9 662.5,610.0 664.9,611.8 666.6,614.2 668.0,616.9 669.5,619.5 670.8,622.3 671.9,625.1 673.0,627.9 674.2,630.7 675.3,633.5 676.4,636.3 677.5,639.1 678.6,641.9 679.8,644.7 680.9,647.5 682.1,650.3 683.4,653.1 684.6,655.8 685.9,658.6 687.3,661.2 688.8,663.9 690.2,666.5 691.7,669.2 693.4,671.7 695.1,674.2 696.9,676.7 698.7,679.0 700.9,681.2 703.1,683.2 705.4,685.2 707.9,686.6 710.8,687.7 713.6,688.7 716.5,689.5 719.5,690.0 722.5,690.5 725.5,690.9 728.5,691.2 731.5,691.5 734.5,691.7 737.6,692.0 740.6,692.3 743.6,692.5 746.6,692.8 L746.6,693.3 L520.9,693.3 Z" fill="url(#g6)"/>
<line x1="650.1" y1="697.1" x2="650.1" y2="604.7" stroke="#000" stroke-width="3.7" stroke-dasharray="12.5 12.6"/>
<path d="M520.9,692.4 523.9,692.3 526.9,692.2 530.0,692.1 533.0,692.0 536.0,691.9 539.0,691.8 542.1,691.7 545.1,691.7 548.1,691.6 551.2,691.6 554.2,691.6 557.2,691.6 560.2,691.5 563.2,691.2 566.2,690.8 569.2,690.6 572.3,690.5 575.3,690.5 578.3,690.5 581.4,690.5 584.4,690.5 587.4,690.4 590.4,690.4 593.4,690.2 596.4,689.8 599.4,689.2 602.3,688.3 605.0,687.1 607.8,685.9 610.5,684.5 612.9,682.7 615.2,680.8 617.5,678.8 619.6,676.6 621.7,674.4 623.7,672.2 625.7,669.9 627.3,667.3 628.8,664.7 630.2,662.1 631.5,659.3 632.6,656.5 633.6,653.7 634.7,650.8 635.8,648.0 636.8,645.2 637.9,642.3 638.9,639.5 640.0,636.6 641.0,633.8 642.1,631.0 643.3,628.2 644.5,625.4 645.7,622.6 647.0,619.9 648.5,617.3 650.0,614.7 652.1,612.6 654.5,610.7 657.1,609.4 660.0,608.9 662.5,610.0 664.9,611.8 666.6,614.2 668.0,616.9 669.5,619.5 670.8,622.3 671.9,625.1 673.0,627.9 674.2,630.7 675.3,633.5 676.4,636.3 677.5,639.1 678.6,641.9 679.8,644.7 680.9,647.5 682.1,650.3 683.4,653.1 684.6,655.8 685.9,658.6 687.3,661.2 688.8,663.9 690.2,666.5 691.7,669.2 693.4,671.7 695.1,674.2 696.9,676.7 698.7,679.0 700.9,681.2 703.1,683.2 705.4,685.2 707.9,686.6 710.8,687.7 713.6,688.7 716.5,689.5 719.5,690.0 722.5,690.5 725.5,690.9 728.5,691.2 731.5,691.5 734.5,691.7 737.6,692.0 740.6,692.3 743.6,692.5 746.6,692.8" fill="none" stroke="#000" stroke-width="3.5" stroke-linejoin="round" stroke-linecap="butt"/>
<line x1="341" y1="604.7" x2="341" y2="698.9" stroke="#000" stroke-width="3.6"/>
<line x1="339.2" y1="697.1" x2="1015" y2="697.1" stroke="#000" stroke-width="3.8"/>
<text x="-0.3" y="693.3" font-size="41.3" font-weight="bold" fill="#000">S. pombe</text>
<path d="M563.2,793.3 566.2,793.2 569.2,793.1 572.2,793.0 575.3,792.9 578.3,792.7 581.3,792.6 584.3,792.4 587.3,792.3 590.3,792.0 593.3,791.7 596.3,791.4 599.3,790.9 602.2,790.1 605.1,789.2 607.8,787.9 610.4,786.4 612.8,784.6 615.0,782.5 617.0,780.3 618.7,777.9 620.2,775.3 621.7,772.6 623.1,769.9 624.4,767.2 625.5,764.4 626.6,761.6 627.6,758.8 628.8,756.0 630.0,753.2 631.2,750.5 632.4,747.7 633.5,744.9 634.6,742.1 635.6,739.2 636.6,736.4 637.5,733.5 638.4,730.6 639.3,727.7 640.2,724.9 641.2,722.0 642.3,719.2 643.5,716.5 645.3,714.1 647.4,712.0 650.0,710.6 652.7,710.5 655.2,711.9 657.1,714.1 658.5,716.8 659.8,719.5 660.8,722.3 661.6,725.2 662.5,728.1 663.4,731.0 664.2,733.9 665.1,736.8 665.9,739.7 666.8,742.6 667.7,745.5 668.7,748.3 669.7,751.2 670.6,754.0 671.6,756.9 672.5,759.8 673.5,762.6 674.5,765.5 675.5,768.3 676.6,771.1 677.7,773.9 679.1,776.6 680.5,779.3 682.0,781.9 684.0,784.1 686.3,786.0 688.8,787.6 691.5,788.8 694.4,789.9 697.3,790.5 700.3,791.0 703.3,791.4 706.3,791.8 709.3,792.0 712.3,792.1 715.3,792.1 718.3,792.2 721.3,792.2 724.3,792.3 727.4,792.4 730.4,792.4 733.4,792.5 736.4,792.5 739.4,792.5 742.5,792.5 745.5,792.6 748.5,792.6 751.5,792.6 754.5,792.6 757.5,792.6 760.6,792.6 763.6,792.6 766.6,792.7 769.6,792.7 772.6,792.7 775.7,792.7 778.7,792.7 781.7,792.8 784.7,792.8 787.7,792.8 790.7,792.9 793.8,792.9 796.8,793.0 799.8,793.0 802.8,793.0 805.8,793.1 808.9,793.1 811.9,793.1 814.8,793.2 816.4,793.2 L816.4,794.0 L563.2,794.0 Z" fill="url(#g7)"/>
<line x1="650.1" y1="797.8" x2="650.1" y2="705.3" stroke="#000" stroke-width="3.7" stroke-dasharray="12.5 12.6"/>
<path d="M563.2,793.3 566.2,793.2 569.2,793.1 572.2,793.0 575.3,792.9 578.3,792.7 581.3,792.6 584.3,792.4 587.3,792.3 590.3,792.0 593.3,791.7 596.3,791.4 599.3,790.9 602.2,790.1 605.1,789.2 607.8,787.9 610.4,786.4 612.8,784.6 615.0,782.5 617.0,780.3 618.7,777.9 620.2,775.3 621.7,772.6 623.1,769.9 624.4,767.2 625.5,764.4 626.6,761.6 627.6,758.8 628.8,756.0 630.0,753.2 631.2,750.5 632.4,747.7 633.5,744.9 634.6,742.1 635.6,739.2 636.6,736.4 637.5,733.5 638.4,730.6 639.3,727.7 640.2,724.9 641.2,722.0 642.3,719.2 643.5,716.5 645.3,714.1 647.4,712.0 650.0,710.6 652.7,710.5 655.2,711.9 657.1,714.1 658.5,716.8 659.8,719.5 660.8,722.3 661.6,725.2 662.5,728.1 663.4,731.0 664.2,733.9 665.1,736.8 665.9,739.7 666.8,742.6 667.7,745.5 668.7,748.3 669.7,751.2 670.6,754.0 671.6,756.9 672.5,759.8 673.5,762.6 674.5,765.5 675.5,768.3 676.6,771.1 677.7,773.9 679.1,776.6 680.5,779.3 682.0,781.9 684.0,784.1 686.3,786.0 688.8,787.6 691.5,788.8 694.4,789.9 697.3,790.5 700.3,791.0 703.3,791.4 706.3,791.8 709.3,792.0 712.3,792.1 715.3,792.1 718.3,792.2 721.3,792.2 724.3,792.3 727.4,792.4 730.4,792.4 733.4,792.5 736.4,792.5 739.4,792.5 742.5,792.5 745.5,792.6 748.5,792.6 751.5,792.6 754.5,792.6 757.5,792.6 760.6,792.6 763.6,792.6 766.6,792.7 769.6,792.7 772.6,792.7 775.7,792.7 778.7,792.7 781.7,792.8 784.7,792.8 787.7,792.8 790.7,792.9 793.8,792.9 796.8,793.0 799.8,793.0 802.8,793.0 805.8,793.1 808.9,793.1 811.9,793.1 814.8,793.2 816.4,793.2" fill="none" stroke="#000" stroke-width="3.5" stroke-linejoin="round" stroke-linecap="butt"/>
<line x1="341" y1="705.3" x2="341" y2="799.6" stroke="#000" stroke-width="3.6"/>
<line x1="339.2" y1="797.8" x2="1015" y2="797.8" stroke="#000" stroke-width="3.8"/>
<text x="-0.3" y="794.0" font-size="41.3" font-weight="bold" fill="#000">S. cerevisiae</text>
<path d="M493.1,894.2 496.1,894.2 499.1,894.1 502.1,894.1 505.2,894.0 508.2,894.0 511.2,893.9 514.2,893.9 517.2,893.8 520.2,893.8 523.3,893.8 526.3,893.7 529.3,893.7 532.3,893.6 535.3,893.6 538.3,893.6 541.4,893.5 544.4,893.5 547.4,893.5 550.4,893.4 553.4,893.4 556.4,893.3 559.5,893.2 562.5,893.2 565.5,893.1 568.5,893.0 571.5,892.9 574.5,892.9 577.5,892.7 580.5,892.3 583.5,891.8 586.5,891.2 589.4,890.7 592.3,889.9 595.2,889.0 598.1,888.1 601.0,887.2 603.8,886.1 606.4,884.6 608.9,882.9 611.4,881.3 613.7,879.4 615.7,877.1 617.5,874.7 619.4,872.4 621.2,870.0 623.0,867.6 624.6,865.0 626.1,862.4 627.6,859.8 629.1,857.1 630.6,854.5 632.0,851.8 633.3,849.2 634.7,846.5 636.0,843.8 637.4,841.1 638.7,838.4 640.1,835.7 641.4,833.0 642.8,830.3 644.1,827.6 645.5,824.9 646.9,822.2 648.6,819.7 650.4,817.3 652.2,815.0 654.6,813.3 657.4,812.2 660.2,811.5 662.8,812.2 665.4,813.7 667.8,815.4 669.6,817.7 671.0,820.4 672.3,823.1 673.7,825.8 675.1,828.5 676.6,831.1 678.1,833.7 679.6,836.3 681.1,838.9 682.8,841.4 684.8,843.6 687.0,845.7 689.2,847.7 691.8,849.1 694.7,849.7 697.7,850.3 700.6,850.8 703.6,851.3 706.6,851.7 709.6,852.2 712.4,853.1 715.2,854.2 718.0,855.4 720.7,856.7 723.2,858.3 725.7,860.0 728.2,861.7 730.7,863.4 733.1,865.2 735.4,867.1 737.8,869.1 740.1,871.0 742.4,873.0 744.7,874.9 747.0,876.8 749.4,878.7 751.7,880.6 754.0,882.5 756.6,884.1 759.3,885.3 762.1,886.5 764.9,887.6 767.7,888.7 770.6,889.5 773.5,890.2 776.5,891.0 779.4,891.6 782.4,892.0 785.4,892.4 788.4,892.8 791.4,893.0 794.4,893.2 797.4,893.3 800.4,893.5 803.4,893.6 806.4,893.7 809.5,893.8 812.5,893.9 815.5,893.9 818.5,893.9 821.5,894.0 824.5,894.0 827.6,894.0 830.6,894.1 833.5,894.1 835.1,894.1 L835.1,894.7 L493.1,894.7 Z" fill="url(#g8)"/>
<line x1="650.1" y1="898.5" x2="650.1" y2="806.0" stroke="#000" stroke-width="3.7" stroke-dasharray="12.5 12.6"/>
<path d="M493.1,894.2 496.1,894.2 499.1,894.1 502.1,894.1 505.2,894.0 508.2,894.0 511.2,893.9 514.2,893.9 517.2,893.8 520.2,893.8 523.3,893.8 526.3,893.7 529.3,893.7 532.3,893.6 535.3,893.6 538.3,893.6 541.4,893.5 544.4,893.5 547.4,893.5 550.4,893.4 553.4,893.4 556.4,893.3 559.5,893.2 562.5,893.2 565.5,893.1 568.5,893.0 571.5,892.9 574.5,892.9 577.5,892.7 580.5,892.3 583.5,891.8 586.5,891.2 589.4,890.7 592.3,889.9 595.2,889.0 598.1,888.1 601.0,887.2 603.8,886.1 606.4,884.6 608.9,882.9 611.4,881.3 613.7,879.4 615.7,877.1 617.5,874.7 619.4,872.4 621.2,870.0 623.0,867.6 624.6,865.0 626.1,862.4 627.6,859.8 629.1,857.1 630.6,854.5 632.0,851.8 633.3,849.2 634.7,846.5 636.0,843.8 637.4,841.1 638.7,838.4 640.1,835.7 641.4,833.0 642.8,830.3 644.1,827.6 645.5,824.9 646.9,822.2 648.6,819.7 650.4,817.3 652.2,815.0 654.6,813.3 657.4,812.2 660.2,811.5 662.8,812.2 665.4,813.7 667.8,815.4 669.6,817.7 671.0,820.4 672.3,823.1 673.7,825.8 675.1,828.5 676.6,831.1 678.1,833.7 679.6,836.3 681.1,838.9 682.8,841.4 684.8,843.6 687.0,845.7 689.2,847.7 691.8,849.1 694.7,849.7 697.7,850.3 700.6,850.8 703.6,851.3 706.6,851.7 709.6,852.2 712.4,853.1 715.2,854.2 718.0,855.4 720.7,856.7 723.2,858.3 725.7,860.0 728.2,861.7 730.7,863.4 733.1,865.2 735.4,867.1 737.8,869.1 740.1,871.0 742.4,873.0 744.7,874.9 747.0,876.8 749.4,878.7 751.7,880.6 754.0,882.5 756.6,884.1 759.3,885.3 762.1,886.5 764.9,887.6 767.7,888.7 770.6,889.5 773.5,890.2 776.5,891.0 779.4,891.6 782.4,892.0 785.4,892.4 788.4,892.8 791.4,893.0 794.4,893.2 797.4,893.3 800.4,893.5 803.4,893.6 806.4,893.7 809.5,893.8 812.5,893.9 815.5,893.9 818.5,893.9 821.5,894.0 824.5,894.0 827.6,894.0 830.6,894.1 833.5,894.1 835.1,894.1" fill="none" stroke="#000" stroke-width="3.5" stroke-linejoin="round" stroke-linecap="butt"/>
<line x1="341" y1="806.0" x2="341" y2="900.3" stroke="#000" stroke-width="3.6"/>
<line x1="339.2" y1="898.5" x2="1015" y2="898.5" stroke="#000" stroke-width="3.8"/>
<text x="-0.3" y="894.6" font-size="41.3" font-weight="bold" fill="#000">S. arctica</text>
<path d="M529.4,994.3 532.4,994.2 535.4,994.0 538.5,993.9 541.5,993.8 544.5,993.7 547.5,993.5 550.5,993.4 553.5,993.2 556.5,993.1 559.6,992.9 562.6,992.7 565.6,992.5 568.6,992.3 571.6,992.1 574.6,991.9 577.6,991.8 580.7,991.6 583.7,991.5 586.7,991.4 589.7,991.2 592.7,991.1 595.7,990.9 598.7,990.7 601.7,990.1 604.6,989.2 607.4,988.2 610.2,987.2 612.8,985.7 615.3,983.9 617.7,982.2 619.9,980.2 621.8,977.8 623.5,975.3 625.3,972.9 627.0,970.4 628.6,967.9 630.0,965.2 631.4,962.5 632.7,959.8 634.1,957.1 635.4,954.4 636.8,951.7 638.1,949.0 639.5,946.3 640.8,943.6 642.2,940.9 643.6,938.2 645.1,935.6 646.6,933.0 648.1,930.4 649.7,927.8 651.3,925.3 653.0,922.7 654.7,920.2 656.4,917.8 658.5,915.6 660.8,913.6 663.1,911.8 665.8,910.8 668.2,911.6 670.3,913.7 672.3,916.0 674.2,918.3 676.1,920.7 678.0,923.0 680.0,925.3 682.1,927.5 684.2,929.6 686.4,931.8 688.5,933.9 690.8,935.9 693.0,937.9 695.3,939.9 697.3,942.2 699.1,944.5 701.0,946.9 703.0,949.2 705.1,951.4 707.2,953.5 709.3,955.6 711.5,957.7 713.7,959.8 715.9,961.9 718.1,963.9 720.4,965.9 722.7,967.9 725.1,969.6 727.6,971.3 730.2,973.0 732.6,974.7 735.0,976.5 737.4,978.4 739.8,980.3 742.2,982.0 744.8,983.5 747.5,985.0 750.1,986.4 752.8,987.7 755.7,988.5 758.7,989.2 761.6,989.9 764.5,990.6 767.5,990.9 770.5,991.2 773.6,991.4 776.6,991.7 779.6,992.0 782.6,992.3 785.6,992.7 788.6,993.0 791.6,993.4 794.6,993.7 797.6,994.0 800.6,994.1 803.6,994.2 806.6,994.3 809.6,994.5 812.7,994.6 815.7,994.7 818.6,994.8 820.2,994.9 L820.2,995.4 L529.4,995.4 Z" fill="url(#g9)"/>
<line x1="650.1" y1="999.2" x2="650.1" y2="906.7" stroke="#000" stroke-width="3.7" stroke-dasharray="12.5 12.6"/>
<path d="M529.4,994.3 532.4,994.2 535.4,994.0 538.5,993.9 541.5,993.8 544.5,993.7 547.5,993.5 550.5,993.4 553.5,993.2 556.5,993.1 559.6,992.9 562.6,992.7 565.6,992.5 568.6,992.3 571.6,992.1 574.6,991.9 577.6,991.8 580.7,991.6 583.7,991.5 586.7,991.4 589.7,991.2 592.7,991.1 595.7,990.9 598.7,990.7 601.7,990.1 604.6,989.2 607.4,988.2 610.2,987.2 612.8,985.7 615.3,983.9 617.7,982.2 619.9,980.2 621.8,977.8 623.5,975.3 625.3,972.9 627.0,970.4 628.6,967.9 630.0,965.2 631.4,962.5 632.7,959.8 634.1,957.1 635.4,954.4 636.8,951.7 638.1,949.0 639.5,946.3 640.8,943.6 642.2,940.9 643.6,938.2 645.1,935.6 646.6,933.0 648.1,930.4 649.7,927.8 651.3,925.3 653.0,922.7 654.7,920.2 656.4,917.8 658.5,915.6 660.8,913.6 663.1,911.8 665.8,910.8 668.2,911.6 670.3,913.7 672.3,916.0 674.2,918.3 676.1,920.7 678.0,923.0 680.0,925.3 682.1,927.5 684.2,929.6 686.4,931.8 688.5,933.9 690.8,935.9 693.0,937.9 695.3,939.9 697.3,942.2 699.1,944.5 701.0,946.9 703.0,949.2 705.1,951.4 707.2,953.5 709.3,955.6 711.5,957.7 713.7,959.8 715.9,961.9 718.1,963.9 720.4,965.9 722.7,967.9 725.1,969.6 727.6,971.3 730.2,973.0 732.6,974.7 735.0,976.5 737.4,978.4 739.8,980.3 742.2,982.0 744.8,983.5 747.5,985.0 750.1,986.4 752.8,987.7 755.7,988.5 758.7,989.2 761.6,989.9 764.5,990.6 767.5,990.9 770.5,991.2 773.6,991.4 776.6,991.7 779.6,992.0 782.6,992.3 785.6,992.7 788.6,993.0 791.6,993.4 794.6,993.7 797.6,994.0 800.6,994.1 803.6,994.2 806.6,994.3 809.6,994.5 812.7,994.6 815.7,994.7 818.6,994.8 820.2,994.9" fill="none" stroke="#000" stroke-width="3.5" stroke-linejoin="round" stroke-linecap="butt"/>
<line x1="341" y1="906.7" x2="341" y2="1001.0" stroke="#000" stroke-width="3.6"/>
<line x1="339.2" y1="999.2" x2="1015" y2="999.2" stroke="#000" stroke-width="3.8"/>
<text x="-0.3" y="995.2" font-size="41.3" font-weight="bold" fill="#000">C. fragrantissima</text>
<path d="M456.2,1095.6 459.2,1095.5 462.2,1095.5 465.2,1095.4 468.3,1095.3 471.3,1095.2 474.3,1095.2 477.3,1095.1 480.3,1095.0 483.3,1095.0 486.3,1094.9 489.4,1094.8 492.4,1094.7 495.4,1094.6 498.4,1094.6 501.4,1094.5 504.4,1094.4 507.4,1094.3 510.5,1094.2 513.5,1094.1 516.5,1093.9 519.5,1093.8 522.5,1093.7 525.5,1093.6 528.5,1093.5 531.5,1093.3 534.6,1093.1 537.5,1092.8 540.5,1092.4 543.5,1092.1 546.5,1091.8 549.5,1091.4 552.5,1091.1 555.5,1090.6 558.5,1090.1 561.5,1089.6 564.4,1089.0 567.3,1088.2 570.2,1087.3 573.0,1086.3 575.7,1085.0 578.4,1083.6 581.0,1082.1 583.4,1080.3 585.6,1078.3 587.9,1076.3 590.0,1074.2 592.0,1071.9 593.8,1069.5 595.6,1067.1 597.5,1064.7 599.3,1062.3 601.2,1059.9 603.0,1057.5 604.8,1055.1 606.7,1052.8 608.9,1050.8 611.3,1048.9 613.6,1047.0 615.8,1045.0 617.7,1042.6 619.6,1040.3 621.5,1037.9 623.0,1035.3 624.3,1032.6 625.7,1029.9 627.0,1027.2 628.4,1024.6 629.9,1021.9 631.4,1019.3 633.1,1016.9 635.1,1014.6 637.3,1012.6 640.0,1011.6 642.9,1011.6 645.6,1012.6 648.3,1014.0 650.9,1015.5 653.5,1016.9 656.3,1018.2 659.1,1019.4 661.7,1020.7 664.1,1022.5 666.4,1024.5 668.5,1026.6 670.4,1029.0 672.2,1031.4 674.0,1033.8 675.8,1036.2 677.8,1038.4 679.9,1040.7 681.9,1042.9 683.9,1045.2 685.7,1047.5 687.6,1049.9 689.4,1052.3 691.3,1054.7 693.1,1057.1 694.8,1059.6 696.6,1062.0 698.3,1064.5 700.1,1066.9 702.1,1069.2 704.2,1071.3 706.3,1073.4 708.5,1075.5 710.9,1077.3 713.4,1079.0 715.9,1080.6 718.5,1082.3 721.2,1083.7 723.9,1084.9 726.6,1086.2 729.3,1087.5 732.1,1088.8 734.9,1089.8 737.8,1090.4 740.8,1090.9 743.8,1091.4 746.8,1091.9 749.7,1092.4 752.7,1092.7 755.7,1092.9 758.7,1093.2 761.7,1093.4 764.7,1093.6 767.8,1093.8 770.8,1094.0 773.8,1094.3 776.8,1094.5 779.8,1094.7 782.8,1094.9 785.8,1095.0 788.8,1095.0 791.8,1095.1 794.9,1095.1 797.9,1095.2 800.9,1095.2 803.9,1095.3 806.9,1095.4 809.9,1095.4 812.9,1095.5 816.0,1095.5 819.0,1095.6 822.0,1095.6 825.0,1095.7 L825.0,1096.1 L456.2,1096.1 Z" fill="url(#g10)"/>
<line x1="650.1" y1="1099.9" x2="650.1" y2="1007.4" stroke="#000" stroke-width="3.7" stroke-dasharray="12.5 12.6"/>
<path d="M456.2,1095.6 459.2,1095.5 462.2,1095.5 465.2,1095.4 468.3,1095.3 471.3,1095.2 474.3,1095.2 477.3,1095.1 480.3,1095.0 483.3,1095.0 486.3,1094.9 489.4,1094.8 492.4,1094.7 495.4,1094.6 498.4,1094.6 501.4,1094.5 504.4,1094.4 507.4,1094.3 510.5,1094.2 513.5,1094.1 516.5,1093.9 519.5,1093.8 522.5,1093.7 525.5,1093.6 528.5,1093.5 531.5,1093.3 534.6,1093.1 537.5,1092.8 540.5,1092.4 543.5,1092.1 546.5,1091.8 549.5,1091.4 552.5,1091.1 555.5,1090.6 558.5,1090.1 561.5,1089.6 564.4,1089.0 567.3,1088.2 570.2,1087.3 573.0,1086.3 575.7,1085.0 578.4,1083.6 581.0,1082.1 583.4,1080.3 585.6,1078.3 587.9,1076.3 590.0,1074.2 592.0,1071.9 593.8,1069.5 595.6,1067.1 597.5,1064.7 599.3,1062.3 601.2,1059.9 603.0,1057.5 604.8,1055.1 606.7,1052.8 608.9,1050.8 611.3,1048.9 613.6,1047.0 615.8,1045.0 617.7,1042.6 619.6,1040.3 621.5,1037.9 623.0,1035.3 624.3,1032.6 625.7,1029.9 627.0,1027.2 628.4,1024.6 629.9,1021.9 631.4,1019.3 633.1,1016.9 635.1,1014.6 637.3,1012.6 640.0,1011.6 642.9,1011.6 645.6,1012.6 648.3,1014.0 650.9,1015.5 653.5,1016.9 656.3,1018.2 659.1,1019.4 661.7,1020.7 664.1,1022.5 666.4,1024.5 668.5,1026.6 670.4,1029.0 672.2,1031.4 674.0,1033.8 675.8,1036.2 677.8,1038.4 679.9,1040.7 681.9,1042.9 683.9,1045.2 685.7,1047.5 687.6,1049.9 689.4,1052.3 691.3,1054.7 693.1,1057.1 694.8,1059.6 696.6,1062.0 698.3,1064.5 700.1,1066.9 702.1,1069.2 704.2,1071.3 706.3,1073.4 708.5,1075.5 710.9,1077.3 713.4,1079.0 715.9,1080.6 718.5,1082.3 721.2,1083.7 723.9,1084.9 726.6,1086.2 729.3,1087.5 732.1,1088.8 734.9,1089.8 737.8,1090.4 740.8,1090.9 743.8,1091.4 746.8,1091.9 749.7,1092.4 752.7,1092.7 755.7,1092.9 758.7,1093.2 761.7,1093.4 764.7,1093.6 767.8,1093.8 770.8,1094.0 773.8,1094.3 776.8,1094.5 779.8,1094.7 782.8,1094.9 785.8,1095.0 788.8,1095.0 791.8,1095.1 794.9,1095.1 797.9,1095.2 800.9,1095.2 803.9,1095.3 806.9,1095.4 809.9,1095.4 812.9,1095.5 816.0,1095.5 819.0,1095.6 822.0,1095.6 825.0,1095.7" fill="none" stroke="#000" stroke-width="3.5" stroke-linejoin="round" stroke-linecap="butt"/>
<line x1="341" y1="1007.4" x2="341" y2="1101.7" stroke="#000" stroke-width="3.6"/>
<line x1="339.2" y1="1099.9" x2="1015" y2="1099.9" stroke="#000" stroke-width="3.8"/>
<text x="-0.3" y="1095.9" font-size="41.3" font-weight="bold" fill="#000">C. owczarzaki</text>
<path d="M550.8,1195.7 553.8,1195.2 556.8,1194.8 559.8,1194.3 562.7,1193.6 565.6,1192.8 568.5,1191.9 571.4,1191.2 574.4,1190.6 577.4,1190.0 580.3,1189.8 583.2,1190.4 586.2,1191.2 589.1,1191.9 592.0,1192.7 594.9,1193.6 597.8,1194.4 600.8,1194.7 603.8,1194.4 606.7,1193.9 609.7,1193.2 612.6,1192.4 615.3,1191.3 617.8,1189.6 620.0,1187.6 622.1,1185.4 623.7,1182.9 625.2,1180.3 626.7,1177.6 628.2,1175.0 629.5,1172.3 630.7,1169.5 631.9,1166.7 633.2,1164.0 634.4,1161.2 635.6,1158.4 636.8,1155.7 638.1,1152.9 639.3,1150.1 640.5,1147.4 641.6,1144.6 642.7,1141.7 643.8,1138.9 644.9,1136.1 645.9,1133.3 647.0,1130.4 648.0,1127.6 649.1,1124.8 650.2,1122.0 651.4,1119.2 652.8,1116.5 654.3,1114.0 656.6,1112.4 659.0,1112.8 661.2,1114.8 662.7,1117.3 663.9,1120.1 664.9,1123.0 666.0,1125.8 667.0,1128.7 668.0,1131.5 668.9,1134.4 669.9,1137.2 670.9,1140.1 671.8,1143.0 672.8,1145.9 673.7,1148.7 674.7,1151.6 675.7,1154.4 677.0,1157.2 678.3,1159.9 679.7,1162.6 681.1,1165.3 682.7,1167.8 684.7,1170.1 686.7,1172.3 688.8,1174.5 691.1,1176.4 693.6,1178.0 696.2,1179.5 699.0,1180.7 701.9,1181.4 704.9,1182.0 707.8,1182.0 710.8,1181.6 713.8,1181.2 716.8,1181.1 719.9,1181.0 722.8,1181.6 725.6,1182.7 728.2,1184.1 730.5,1186.0 732.8,1188.0 735.2,1189.8 737.7,1191.5 740.3,1193.1 743.0,1194.3 745.9,1194.9 748.8,1195.4 750.4,1195.7 L750.4,1196.8 L550.8,1196.8 Z" fill="url(#g11)"/>
<line x1="650.1" y1="1200.6" x2="650.1" y2="1108.1" stroke="#000" stroke-width="3.7" stroke-dasharray="12.5 12.6"/>
<path d="M550.8,1195.7 553.8,1195.2 556.8,1194.8 559.8,1194.3 562.7,1193.6 565.6,1192.8 568.5,1191.9 571.4,1191.2 574.4,1190.6 577.4,1190.0 580.3,1189.8 583.2,1190.4 586.2,1191.2 589.1,1191.9 592.0,1192.7 594.9,1193.6 597.8,1194.4 600.8,1194.7 603.8,1194.4 606.7,1193.9 609.7,1193.2 612.6,1192.4 615.3,1191.3 617.8,1189.6 620.0,1187.6 622.1,1185.4 623.7,1182.9 625.2,1180.3 626.7,1177.6 628.2,1175.0 629.5,1172.3 630.7,1169.5 631.9,1166.7 633.2,1164.0 634.4,1161.2 635.6,1158.4 636.8,1155.7 638.1,1152.9 639.3,1150.1 640.5,1147.4 641.6,1144.6 642.7,1141.7 643.8,1138.9 644.9,1136.1 645.9,1133.3 647.0,1130.4 648.0,1127.6 649.1,1124.8 650.2,1122.0 651.4,1119.2 652.8,1116.5 654.3,1114.0 656.6,1112.4 659.0,1112.8 661.2,1114.8 662.7,1117.3 663.9,1120.1 664.9,1123.0 666.0,1125.8 667.0,1128.7 668.0,1131.5 668.9,1134.4 669.9,1137.2 670.9,1140.1 671.8,1143.0 672.8,1145.9 673.7,1148.7 674.7,1151.6 675.7,1154.4 677.0,1157.2 678.3,1159.9 679.7,1162.6 681.1,1165.3 682.7,1167.8 684.7,1170.1 686.7,1172.3 688.8,1174.5 691.1,1176.4 693.6,1178.0 696.2,1179.5 699.0,1180.7 701.9,1181.4 704.9,1182.0 707.8,1182.0 710.8,1181.6 713.8,1181.2 716.8,1181.1 719.9,1181.0 722.8,1181.6 725.6,1182.7 728.2,1184.1 730.5,1186.0 732.8,1188.0 735.2,1189.8 737.7,1191.5 740.3,1193.1 743.0,1194.3 745.9,1194.9 748.8,1195.4 750.4,1195.7" fill="none" stroke="#000" stroke-width="3.5" stroke-linejoin="round" stroke-linecap="butt"/>
<line x1="341" y1="1108.1" x2="341" y2="1202.4" stroke="#000" stroke-width="3.6"/>
<line x1="339.2" y1="1200.6" x2="1015" y2="1200.6" stroke="#000" stroke-width="3.8"/>
<text x="-0.3" y="1196.6" font-size="41.3" font-weight="bold" fill="#000">N. vectensis</text>
<path d="M492.2,1297.0 495.2,1297.0 498.2,1296.9 501.2,1296.9 504.3,1296.9 507.3,1296.9 510.3,1296.8 513.3,1296.8 516.3,1296.8 519.3,1296.8 522.4,1296.7 525.4,1296.7 528.4,1296.7 531.4,1296.6 534.4,1296.6 537.4,1296.5 540.4,1296.4 543.5,1296.4 546.5,1296.3 549.5,1296.2 552.5,1296.2 555.5,1296.1 558.5,1296.1 561.6,1296.0 564.6,1295.9 567.6,1295.9 570.6,1295.8 573.6,1295.8 576.6,1295.7 579.6,1295.7 582.7,1295.5 585.7,1295.3 588.7,1295.0 591.7,1294.6 594.7,1294.3 597.7,1294.0 600.7,1293.7 603.6,1293.3 606.6,1292.7 609.5,1292.1 612.2,1290.9 614.8,1289.3 617.2,1287.5 619.1,1285.3 621.0,1282.9 622.5,1280.3 623.8,1277.6 625.0,1274.8 626.2,1272.1 627.2,1269.2 628.1,1266.3 628.9,1263.4 629.6,1260.5 630.4,1257.6 631.2,1254.7 631.9,1251.8 632.7,1248.8 633.4,1245.9 634.1,1243.0 634.9,1240.1 635.6,1237.1 636.3,1234.2 637.1,1231.3 637.8,1228.4 638.6,1225.4 639.4,1222.5 640.3,1219.7 641.3,1216.8 642.8,1214.4 645.0,1213.1 647.3,1214.3 649.0,1216.7 650.3,1219.4 651.5,1222.2 652.6,1225.0 653.6,1227.8 654.5,1230.7 655.5,1233.5 656.4,1236.4 657.3,1239.3 658.1,1242.2 659.0,1245.1 659.9,1247.9 661.0,1250.8 662.1,1253.6 663.2,1256.4 664.3,1259.2 665.5,1261.9 666.7,1264.7 668.0,1267.5 669.3,1270.1 671.2,1272.5 673.2,1274.7 675.6,1276.2 678.5,1276.9 681.4,1277.7 684.1,1279.0 686.8,1280.4 689.4,1281.9 692.0,1283.4 694.6,1284.9 697.2,1286.5 699.8,1288.1 702.4,1289.6 705.1,1290.8 708.0,1291.5 711.0,1292.3 713.9,1293.0 716.8,1293.7 719.7,1294.5 722.7,1295.2 725.6,1295.6 728.6,1295.8 731.6,1295.9 734.7,1295.9 737.7,1295.9 740.7,1296.0 743.7,1296.0 746.7,1296.0 749.7,1296.1 752.8,1296.1 755.8,1296.1 758.8,1296.1 761.8,1296.2 764.8,1296.2 767.8,1296.2 770.8,1296.2 773.9,1296.2 776.9,1296.2 779.9,1296.2 782.9,1296.3 785.9,1296.3 788.9,1296.3 792.0,1296.3 795.0,1296.3 798.0,1296.3 801.0,1296.3 804.0,1296.3 807.0,1296.3 810.0,1296.3 813.1,1296.4 816.1,1296.4 819.1,1296.4 822.1,1296.4 825.1,1296.4 828.1,1296.4 831.2,1296.4 834.2,1296.4 837.2,1296.4 840.2,1296.4 843.2,1296.5 846.2,1296.5 849.3,1296.5 852.3,1296.5 855.3,1296.5 858.3,1296.5 L858.3,1297.5 L492.2,1297.5 Z" fill="url(#g12)"/>
<line x1="650.1" y1="1301.3" x2="650.1" y2="1208.8" stroke="#000" stroke-width="3.7" stroke-dasharray="12.5 12.6"/>
<path d="M492.2,1297.0 495.2,1297.0 498.2,1296.9 501.2,1296.9 504.3,1296.9 507.3,1296.9 510.3,1296.8 513.3,1296.8 516.3,1296.8 519.3,1296.8 522.4,1296.7 525.4,1296.7 528.4,1296.7 531.4,1296.6 534.4,1296.6 537.4,1296.5 540.4,1296.4 543.5,1296.4 546.5,1296.3 549.5,1296.2 552.5,1296.2 555.5,1296.1 558.5,1296.1 561.6,1296.0 564.6,1295.9 567.6,1295.9 570.6,1295.8 573.6,1295.8 576.6,1295.7 579.6,1295.7 582.7,1295.5 585.7,1295.3 588.7,1295.0 591.7,1294.6 594.7,1294.3 597.7,1294.0 600.7,1293.7 603.6,1293.3 606.6,1292.7 609.5,1292.1 612.2,1290.9 614.8,1289.3 617.2,1287.5 619.1,1285.3 621.0,1282.9 622.5,1280.3 623.8,1277.6 625.0,1274.8 626.2,1272.1 627.2,1269.2 628.1,1266.3 628.9,1263.4 629.6,1260.5 630.4,1257.6 631.2,1254.7 631.9,1251.8 632.7,1248.8 633.4,1245.9 634.1,1243.0 634.9,1240.1 635.6,1237.1 636.3,1234.2 637.1,1231.3 637.8,1228.4 638.6,1225.4 639.4,1222.5 640.3,1219.7 641.3,1216.8 642.8,1214.4 645.0,1213.1 647.3,1214.3 649.0,1216.7 650.3,1219.4 651.5,1222.2 652.6,1225.0 653.6,1227.8 654.5,1230.7 655.5,1233.5 656.4,1236.4 657.3,1239.3 658.1,1242.2 659.0,1245.1 659.9,1247.9 661.0,1250.8 662.1,1253.6 663.2,1256.4 664.3,1259.2 665.5,1261.9 666.7,1264.7 668.0,1267.5 669.3,1270.1 671.2,1272.5 673.2,1274.7 675.6,1276.2 678.5,1276.9 681.4,1277.7 684.1,1279.0 686.8,1280.4 689.4,1281.9 692.0,1283.4 694.6,1284.9 697.2,1286.5 699.8,1288.1 702.4,1289.6 705.1,1290.8 708.0,1291.5 711.0,1292.3 713.9,1293.0 716.8,1293.7 719.7,1294.5 722.7,1295.2 725.6,1295.6 728.6,1295.8 731.6,1295.9 734.7,1295.9 737.7,1295.9 740.7,1296.0 743.7,1296.0 746.7,1296.0 749.7,1296.1 752.8,1296.1 755.8,1296.1 758.8,1296.1 761.8,1296.2 764.8,1296.2 767.8,1296.2 770.8,1296.2 773.9,1296.2 776.9,1296.2 779.9,1296.2 782.9,1296.3 785.9,1296.3 788.9,1296.3 792.0,1296.3 795.0,1296.3 798.0,1296.3 801.0,1296.3 804.0,1296.3 807.0,1296.3 810.0,1296.3 813.1,1296.4 816.1,1296.4 819.1,1296.4 822.1,1296.4 825.1,1296.4 828.1,1296.4 831.2,1296.4 834.2,1296.4 837.2,1296.4 840.2,1296.4 843.2,1296.5 846.2,1296.5 849.3,1296.5 852.3,1296.5 855.3,1296.5 858.3,1296.5" fill="none" stroke="#000" stroke-width="3.5" stroke-linejoin="round" stroke-linecap="butt"/>
<line x1="341" y1="1208.8" x2="341" y2="1303.1" stroke="#000" stroke-width="3.6"/>
<line x1="339.2" y1="1301.3" x2="1015" y2="1301.3" stroke="#000" stroke-width="3.8"/>
<text x="-0.3" y="1297.2" font-size="41.3" font-weight="bold" fill="#000">C. elegans</text>
<path d="M536.2,1397.6 539.2,1397.6 542.2,1397.5 545.3,1397.5 548.3,1397.4 551.3,1397.4 554.3,1397.2 557.3,1396.9 560.3,1396.6 563.3,1396.3 566.3,1396.1 569.4,1396.1 572.4,1396.1 575.4,1396.1 578.4,1396.1 581.4,1396.1 584.4,1395.9 587.4,1395.4 590.4,1395.0 593.4,1394.5 596.3,1393.7 599.1,1392.6 601.8,1391.3 604.3,1389.7 606.8,1387.9 609.0,1385.9 611.0,1383.7 613.1,1381.4 615.0,1379.1 616.7,1376.7 618.5,1374.2 620.2,1371.7 621.9,1369.2 623.5,1366.7 625.1,1364.1 626.6,1361.5 628.1,1358.8 629.4,1356.1 630.8,1353.4 632.1,1350.7 633.3,1348.0 634.6,1345.2 635.8,1342.5 637.0,1339.7 638.3,1337.0 639.7,1334.3 641.0,1331.6 642.4,1328.9 643.9,1326.3 645.4,1323.7 647.0,1321.1 648.7,1318.6 650.5,1316.2 652.6,1314.2 655.3,1313.1 658.0,1313.3 660.6,1314.7 662.8,1316.7 664.8,1319.0 666.5,1321.4 667.9,1324.1 669.1,1326.9 670.4,1329.6 671.6,1332.4 672.9,1335.1 674.3,1337.8 675.6,1340.5 677.0,1343.2 678.3,1345.9 679.7,1348.6 681.0,1351.3 682.4,1354.0 683.7,1356.7 685.0,1359.4 686.4,1362.1 687.9,1364.8 689.4,1367.3 691.0,1369.9 692.7,1372.4 694.4,1374.9 696.3,1377.2 698.3,1379.5 700.3,1381.7 702.6,1383.7 704.9,1385.7 707.3,1387.5 709.9,1389.1 712.5,1390.5 715.2,1391.8 718.1,1392.7 721.0,1393.5 724.0,1394.1 726.9,1394.4 730.0,1394.5 733.0,1394.6 736.0,1394.8 739.0,1395.0 742.0,1395.2 745.0,1395.5 748.0,1395.7 751.1,1395.9 754.1,1396.2 757.1,1396.4 760.1,1396.6 763.1,1396.8 766.1,1396.9 769.1,1397.1 772.2,1397.3 775.2,1397.5 778.2,1397.6 781.2,1397.8 L781.2,1398.2 L536.2,1398.2 Z" fill="url(#g13)"/>
<line x1="650.1" y1="1402.0" x2="650.1" y2="1309.5" stroke="#000" stroke-width="3.7" stroke-dasharray="12.5 12.6"/>
<path d="M536.2,1397.6 539.2,1397.6 542.2,1397.5 545.3,1397.5 548.3,1397.4 551.3,1397.4 554.3,1397.2 557.3,1396.9 560.3,1396.6 563.3,1396.3 566.3,1396.1 569.4,1396.1 572.4,1396.1 575.4,1396.1 578.4,1396.1 581.4,1396.1 584.4,1395.9 587.4,1395.4 590.4,1395.0 593.4,1394.5 596.3,1393.7 599.1,1392.6 601.8,1391.3 604.3,1389.7 606.8,1387.9 609.0,1385.9 611.0,1383.7 613.1,1381.4 615.0,1379.1 616.7,1376.7 618.5,1374.2 620.2,1371.7 621.9,1369.2 623.5,1366.7 625.1,1364.1 626.6,1361.5 628.1,1358.8 629.4,1356.1 630.8,1353.4 632.1,1350.7 633.3,1348.0 634.6,1345.2 635.8,1342.5 637.0,1339.7 638.3,1337.0 639.7,1334.3 641.0,1331.6 642.4,1328.9 643.9,1326.3 645.4,1323.7 647.0,1321.1 648.7,1318.6 650.5,1316.2 652.6,1314.2 655.3,1313.1 658.0,1313.3 660.6,1314.7 662.8,1316.7 664.8,1319.0 666.5,1321.4 667.9,1324.1 669.1,1326.9 670.4,1329.6 671.6,1332.4 672.9,1335.1 674.3,1337.8 675.6,1340.5 677.0,1343.2 678.3,1345.9 679.7,1348.6 681.0,1351.3 682.4,1354.0 683.7,1356.7 685.0,1359.4 686.4,1362.1 687.9,1364.8 689.4,1367.3 691.0,1369.9 692.7,1372.4 694.4,1374.9 696.3,1377.2 698.3,1379.5 700.3,1381.7 702.6,1383.7 704.9,1385.7 707.3,1387.5 709.9,1389.1 712.5,1390.5 715.2,1391.8 718.1,1392.7 721.0,1393.5 724.0,1394.1 726.9,1394.4 730.0,1394.5 733.0,1394.6 736.0,1394.8 739.0,1395.0 742.0,1395.2 745.0,1395.5 748.0,1395.7 751.1,1395.9 754.1,1396.2 757.1,1396.4 760.1,1396.6 763.1,1396.8 766.1,1396.9 769.1,1397.1 772.2,1397.3 775.2,1397.5 778.2,1397.6 781.2,1397.8" fill="none" stroke="#000" stroke-width="3.5" stroke-linejoin="round" stroke-linecap="butt"/>
<line x1="341" y1="1309.5" x2="341" y2="1403.8" stroke="#000" stroke-width="3.6"/>
<line x1="339.2" y1="1402.0" x2="1015" y2="1402.0" stroke="#000" stroke-width="3.8"/>
<text x="-0.3" y="1397.9" font-size="41.3" font-weight="bold" fill="#000">D. pulex</text>
<path d="M465.5,1497.8 468.5,1497.8 471.5,1497.7 474.5,1497.7 477.6,1497.7 480.6,1497.6 483.6,1497.6 486.6,1497.6 489.6,1497.5 492.6,1497.5 495.6,1497.4 498.6,1497.3 501.7,1497.2 504.7,1497.1 507.7,1497.0 510.7,1496.8 513.7,1496.7 516.7,1496.5 519.7,1496.3 522.7,1496.0 525.7,1495.7 528.7,1495.4 531.7,1495.0 534.7,1494.6 537.6,1494.0 540.6,1493.5 543.6,1493.0 546.5,1492.5 549.4,1491.7 552.3,1490.9 555.2,1490.1 558.2,1489.3 561.1,1488.5 563.9,1487.6 566.8,1486.6 569.6,1485.6 572.5,1484.6 575.3,1483.6 578.2,1482.7 581.1,1482.0 584.1,1481.5 587.0,1480.9 590.0,1480.4 593.0,1479.8 595.9,1479.2 598.9,1478.7 601.8,1478.0 604.6,1477.0 607.4,1475.8 610.2,1474.7 612.9,1473.5 615.4,1471.8 617.8,1470.0 620.2,1468.1 622.5,1466.2 624.8,1464.3 626.9,1462.1 628.8,1459.8 630.7,1457.5 632.7,1455.2 634.6,1452.8 636.5,1450.5 638.3,1448.1 640.0,1445.6 641.6,1443.1 643.3,1440.6 645.0,1438.1 646.7,1435.6 648.4,1433.1 650.2,1430.7 652.0,1428.2 653.7,1425.8 655.5,1423.4 657.6,1421.3 659.9,1419.3 662.3,1417.5 665.0,1416.3 667.9,1415.6 670.8,1415.5 673.6,1416.4 676.3,1417.5 679.0,1418.8 681.4,1420.6 683.5,1422.7 685.7,1424.9 687.8,1427.0 690.1,1429.0 692.5,1430.7 695.0,1432.5 697.4,1434.2 699.9,1435.9 702.6,1437.2 705.4,1438.3 708.2,1439.3 711.1,1440.4 713.9,1441.4 716.8,1441.8 719.8,1441.7 722.8,1441.6 725.8,1441.5 728.9,1441.4 731.9,1441.4 734.9,1441.4 737.9,1441.5 740.7,1442.2 743.5,1443.3 746.3,1444.5 749.1,1445.6 751.6,1447.2 753.9,1449.1 756.2,1451.2 758.4,1453.2 760.7,1455.2 762.9,1457.1 765.3,1459.0 767.7,1460.9 770.0,1462.7 772.4,1464.6 774.8,1466.4 777.3,1468.1 779.9,1469.6 782.6,1470.9 785.3,1472.2 788.0,1473.6 790.7,1475.0 793.3,1476.4 795.9,1477.9 798.6,1479.3 801.2,1480.8 803.9,1482.1 806.8,1483.1 809.6,1484.2 812.4,1485.2 815.2,1486.2 818.1,1487.2 821.0,1488.1 823.8,1489.1 826.7,1490.0 829.6,1490.8 832.5,1491.4 835.5,1492.1 838.4,1492.7 841.4,1493.4 844.3,1494.0 847.3,1494.6 850.2,1495.3 853.2,1495.9 856.1,1496.5 859.1,1496.8 862.1,1497.0 865.1,1497.1 868.1,1497.2 871.1,1497.3 874.1,1497.5 877.2,1497.6 880.2,1497.7 883.2,1497.8 886.2,1497.9 889.1,1498.0 890.7,1498.1 L890.7,1498.9 L465.5,1498.9 Z" fill="url(#g14)"/>
<line x1="650.1" y1="1502.7" x2="650.1" y2="1410.2" stroke="#000" stroke-width="3.7" stroke-dasharray="12.5 12.6"/>
<path d="M465.5,1497.8 468.5,1497.8 471.5,1497.7 474.5,1497.7 477.6,1497.7 480.6,1497.6 483.6,1497.6 486.6,1497.6 489.6,1497.5 492.6,1497.5 495.6,1497.4 498.6,1497.3 501.7,1497.2 504.7,1497.1 507.7,1497.0 510.7,1496.8 513.7,1496.7 516.7,1496.5 519.7,1496.3 522.7,1496.0 525.7,1495.7 528.7,1495.4 531.7,1495.0 534.7,1494.6 537.6,1494.0 540.6,1493.5 543.6,1493.0 546.5,1492.5 549.4,1491.7 552.3,1490.9 555.2,1490.1 558.2,1489.3 561.1,1488.5 563.9,1487.6 566.8,1486.6 569.6,1485.6 572.5,1484.6 575.3,1483.6 578.2,1482.7 581.1,1482.0 584.1,1481.5 587.0,1480.9 590.0,1480.4 593.0,1479.8 595.9,1479.2 598.9,1478.7 601.8,1478.0 604.6,1477.0 607.4,1475.8 610.2,1474.7 612.9,1473.5 615.4,1471.8 617.8,1470.0 620.2,1468.1 622.5,1466.2 624.8,1464.3 626.9,1462.1 628.8,1459.8 630.7,1457.5 632.7,1455.2 634.6,1452.8 636.5,1450.5 638.3,1448.1 640.0,1445.6 641.6,1443.1 643.3,1440.6 645.0,1438.1 646.7,1435.6 648.4,1433.1 650.2,1430.7 652.0,1428.2 653.7,1425.8 655.5,1423.4 657.6,1421.3 659.9,1419.3 662.3,1417.5 665.0,1416.3 667.9,1415.6 670.8,1415.5 673.6,1416.4 676.3,1417.5 679.0,1418.8 681.4,1420.6 683.5,1422.7 685.7,1424.9 687.8,1427.0 690.1,1429.0 692.5,1430.7 695.0,1432.5 697.4,1434.2 699.9,1435.9 702.6,1437.2 705.4,1438.3 708.2,1439.3 711.1,1440.4 713.9,1441.4 716.8,1441.8 719.8,1441.7 722.8,1441.6 725.8,1441.5 728.9,1441.4 731.9,1441.4 734.9,1441.4 737.9,1441.5 740.7,1442.2 743.5,1443.3 746.3,1444.5 749.1,1445.6 751.6,1447.2 753.9,1449.1 756.2,1451.2 758.4,1453.2 760.7,1455.2 762.9,1457.1 765.3,1459.0 767.7,1460.9 770.0,1462.7 772.4,1464.6 774.8,1466.4 777.3,1468.1 779.9,1469.6 782.6,1470.9 785.3,1472.2 788.0,1473.6 790.7,1475.0 793.3,1476.4 795.9,1477.9 798.6,1479.3 801.2,1480.8 803.9,1482.1 806.8,1483.1 809.6,1484.2 812.4,1485.2 815.2,1486.2 818.1,1487.2 821.0,1488.1 823.8,1489.1 826.7,1490.0 829.6,1490.8 832.5,1491.4 835.5,1492.1 838.4,1492.7 841.4,1493.4 844.3,1494.0 847.3,1494.6 850.2,1495.3 853.2,1495.9 856.1,1496.5 859.1,1496.8 862.1,1497.0 865.1,1497.1 868.1,1497.2 871.1,1497.3 874.1,1497.5 877.2,1497.6 880.2,1497.7 883.2,1497.8 886.2,1497.9 889.1,1498.0 890.7,1498.1" fill="none" stroke="#000" stroke-width="3.5" stroke-linejoin="round" stroke-linecap="butt"/>
<line x1="341" y1="1410.2" x2="341" y2="1504.5" stroke="#000" stroke-width="3.6"/>
<line x1="339.2" y1="1502.7" x2="1015" y2="1502.7" stroke="#000" stroke-width="3.8"/>
<text x="-0.3" y="1498.5" font-size="41.3" font-weight="bold" fill="#000">D. iulia</text>
<path d="M457.7,1598.7 460.7,1598.7 463.7,1598.6 466.7,1598.6 469.8,1598.6 472.8,1598.6 475.8,1598.5 478.8,1598.5 481.8,1598.5 484.8,1598.5 487.8,1598.4 490.8,1598.4 493.9,1598.4 496.9,1598.4 499.9,1598.3 502.9,1598.3 505.9,1598.2 508.9,1597.9 511.9,1597.7 514.9,1597.4 517.9,1597.1 520.9,1596.8 523.9,1596.5 526.9,1596.3 529.9,1596.0 532.9,1595.7 535.9,1595.4 538.9,1595.1 541.9,1594.9 544.9,1594.6 547.9,1594.3 550.9,1594.1 553.9,1594.0 556.9,1593.8 560.0,1593.7 563.0,1593.6 566.0,1593.4 568.9,1592.8 571.9,1592.2 574.8,1591.5 577.7,1590.8 580.6,1590.1 583.6,1589.3 586.5,1588.6 589.4,1587.8 592.3,1587.1 595.2,1586.2 597.7,1584.7 600.2,1582.9 602.6,1581.2 605.1,1579.4 607.5,1577.6 609.7,1575.6 612.0,1573.6 614.2,1571.6 616.5,1569.6 618.6,1567.5 620.5,1565.1 622.1,1562.6 623.8,1560.1 625.5,1557.6 627.2,1555.1 628.9,1552.6 630.6,1550.2 632.4,1547.7 634.2,1545.3 636.0,1542.9 637.7,1540.4 639.4,1537.9 641.1,1535.4 642.7,1532.9 644.4,1530.4 646.0,1527.8 647.6,1525.3 649.2,1522.8 651.0,1520.3 653.2,1518.3 655.5,1516.5 658.2,1515.4 661.0,1515.6 663.6,1517.0 665.9,1518.9 668.2,1520.8 670.4,1522.9 672.5,1525.0 674.6,1527.1 676.8,1529.3 678.8,1531.5 680.7,1533.8 682.6,1536.2 684.5,1538.5 686.4,1540.9 688.3,1543.2 690.3,1545.5 692.3,1547.7 694.3,1550.0 696.3,1552.2 698.4,1554.3 700.6,1556.4 702.9,1558.4 705.1,1560.4 707.4,1562.4 709.7,1564.3 712.2,1566.1 714.6,1567.8 717.1,1569.5 719.6,1571.2 722.1,1572.9 724.7,1574.4 727.3,1576.0 729.8,1577.5 732.5,1578.9 735.3,1579.9 738.2,1580.7 741.1,1581.6 744.0,1582.4 746.9,1583.2 749.8,1584.1 752.7,1585.0 755.5,1586.0 758.4,1586.9 761.2,1587.8 764.1,1588.7 767.0,1589.6 769.9,1590.4 772.8,1591.2 775.7,1592.0 778.7,1592.7 781.6,1593.2 784.6,1593.6 787.6,1594.1 790.6,1594.5 793.6,1594.9 796.6,1595.1 799.6,1595.4 802.6,1595.7 805.6,1595.8 808.6,1595.7 811.6,1595.5 814.6,1595.3 817.6,1595.2 820.6,1595.4 823.6,1595.8 826.6,1596.2 829.6,1596.6 832.5,1596.9 835.5,1597.2 838.6,1597.3 841.6,1597.5 844.6,1597.6 847.6,1597.7 850.6,1597.9 853.6,1598.0 856.6,1598.1 859.6,1598.1 862.6,1598.1 865.7,1598.1 868.7,1598.1 871.7,1598.1 874.7,1598.1 877.7,1598.1 880.7,1598.1 883.7,1598.1 886.8,1598.1 889.8,1598.1 892.8,1598.2 895.8,1598.2 898.8,1598.2 901.8,1598.3 904.8,1598.3 907.8,1598.4 910.9,1598.4 913.9,1598.5 916.9,1598.5 919.9,1598.6 922.9,1598.6 925.9,1598.6 928.9,1598.7 931.9,1598.7 935.0,1598.8 938.0,1598.8 941.0,1598.9 944.0,1598.9 L944.0,1599.5 L457.7,1599.5 Z" fill="url(#g15)"/>
<line x1="650.1" y1="1603.3" x2="650.1" y2="1510.9" stroke="#000" stroke-width="3.7" stroke-dasharray="12.5 12.6"/>
<path d="M457.7,1598.7 460.7,1598.7 463.7,1598.6 466.7,1598.6 469.8,1598.6 472.8,1598.6 475.8,1598.5 478.8,1598.5 481.8,1598.5 484.8,1598.5 487.8,1598.4 490.8,1598.4 493.9,1598.4 496.9,1598.4 499.9,1598.3 502.9,1598.3 505.9,1598.2 508.9,1597.9 511.9,1597.7 514.9,1597.4 517.9,1597.1 520.9,1596.8 523.9,1596.5 526.9,1596.3 529.9,1596.0 532.9,1595.7 535.9,1595.4 538.9,1595.1 541.9,1594.9 544.9,1594.6 547.9,1594.3 550.9,1594.1 553.9,1594.0 556.9,1593.8 560.0,1593.7 563.0,1593.6 566.0,1593.4 568.9,1592.8 571.9,1592.2 574.8,1591.5 577.7,1590.8 580.6,1590.1 583.6,1589.3 586.5,1588.6 589.4,1587.8 592.3,1587.1 595.2,1586.2 597.7,1584.7 600.2,1582.9 602.6,1581.2 605.1,1579.4 607.5,1577.6 609.7,1575.6 612.0,1573.6 614.2,1571.6 616.5,1569.6 618.6,1567.5 620.5,1565.1 622.1,1562.6 623.8,1560.1 625.5,1557.6 627.2,1555.1 628.9,1552.6 630.6,1550.2 632.4,1547.7 634.2,1545.3 636.0,1542.9 637.7,1540.4 639.4,1537.9 641.1,1535.4 642.7,1532.9 644.4,1530.4 646.0,1527.8 647.6,1525.3 649.2,1522.8 651.0,1520.3 653.2,1518.3 655.5,1516.5 658.2,1515.4 661.0,1515.6 663.6,1517.0 665.9,1518.9 668.2,1520.8 670.4,1522.9 672.5,1525.0 674.6,1527.1 676.8,1529.3 678.8,1531.5 680.7,1533.8 682.6,1536.2 684.5,1538.5 686.4,1540.9 688.3,1543.2 690.3,1545.5 692.3,1547.7 694.3,1550.0 696.3,1552.2 698.4,1554.3 700.6,1556.4 702.9,1558.4 705.1,1560.4 707.4,1562.4 709.7,1564.3 712.2,1566.1 714.6,1567.8 717.1,1569.5 719.6,1571.2 722.1,1572.9 724.7,1574.4 727.3,1576.0 729.8,1577.5 732.5,1578.9 735.3,1579.9 738.2,1580.7 741.1,1581.6 744.0,1582.4 746.9,1583.2 749.8,1584.1 752.7,1585.0 755.5,1586.0 758.4,1586.9 761.2,1587.8 764.1,1588.7 767.0,1589.6 769.9,1590.4 772.8,1591.2 775.7,1592.0 778.7,1592.7 781.6,1593.2 784.6,1593.6 787.6,1594.1 790.6,1594.5 793.6,1594.9 796.6,1595.1 799.6,1595.4 802.6,1595.7 805.6,1595.8 808.6,1595.7 811.6,1595.5 814.6,1595.3 817.6,1595.2 820.6,1595.4 823.6,1595.8 826.6,1596.2 829.6,1596.6 832.5,1596.9 835.5,1597.2 838.6,1597.3 841.6,1597.5 844.6,1597.6 847.6,1597.7 850.6,1597.9 853.6,1598.0 856.6,1598.1 859.6,1598.1 862.6,1598.1 865.7,1598.1 868.7,1598.1 871.7,1598.1 874.7,1598.1 877.7,1598.1 880.7,1598.1 883.7,1598.1 886.8,1598.1 889.8,1598.1 892.8,1598.2 895.8,1598.2 898.8,1598.2 901.8,1598.3 904.8,1598.3 907.8,1598.4 910.9,1598.4 913.9,1598.5 916.9,1598.5 919.9,1598.6 922.9,1598.6 925.9,1598.6 928.9,1598.7 931.9,1598.7 935.0,1598.8 938.0,1598.8 941.0,1598.9 944.0,1598.9" fill="none" stroke="#000" stroke-width="3.5" stroke-linejoin="round" stroke-linecap="butt"/>
<line x1="341" y1="1510.9" x2="341" y2="1605.1" stroke="#000" stroke-width="3.6"/>
<line x1="339.2" y1="1603.3" x2="1015" y2="1603.3" stroke="#000" stroke-width="3.8"/>
<text x="-0.3" y="1599.2" font-size="41.3" font-weight="bold" fill="#000">D. melanogaster</text>
<path d="M469.4,1699.4 472.4,1699.4 475.4,1699.4 478.5,1699.4 481.5,1699.4 484.5,1699.4 487.5,1699.4 490.5,1699.3 493.6,1699.3 496.6,1699.3 499.6,1699.3 502.6,1699.3 505.6,1699.3 508.7,1699.3 511.7,1699.3 514.7,1699.2 517.7,1699.1 520.7,1699.1 523.8,1699.0 526.8,1698.9 529.8,1698.9 532.8,1698.8 535.8,1698.8 538.9,1698.7 541.9,1698.6 544.9,1698.6 547.9,1698.5 550.9,1698.4 554.0,1698.4 557.0,1698.3 560.0,1698.2 563.0,1698.1 566.0,1698.1 569.1,1698.0 572.1,1697.9 575.1,1697.8 578.1,1697.5 581.1,1697.0 584.1,1696.6 587.1,1696.2 590.1,1695.8 593.1,1695.5 596.1,1695.2 599.1,1694.8 602.0,1694.3 605.0,1693.6 607.9,1692.9 610.7,1691.8 613.5,1690.6 616.2,1689.3 618.8,1687.8 621.3,1686.1 623.8,1684.4 626.3,1682.7 628.8,1681.1 631.4,1679.5 634.0,1677.9 636.5,1676.3 639.0,1674.6 641.5,1672.9 643.9,1671.1 646.1,1669.0 648.3,1666.9 650.4,1664.8 652.5,1662.6 654.6,1660.4 656.6,1658.2 658.7,1656.0 660.7,1653.7 662.8,1651.6 665.1,1649.5 667.3,1647.5 669.6,1645.5 671.9,1643.5 674.2,1641.6 676.5,1639.7 678.9,1637.8 681.3,1636.0 683.6,1634.1 686.0,1632.2 688.4,1630.4 691.0,1628.9 693.7,1627.5 696.4,1626.1 698.8,1624.4 701.1,1622.5 703.4,1620.5 705.9,1618.8 708.6,1617.5 711.3,1616.6 714.1,1617.1 716.8,1618.3 718.9,1620.3 720.7,1622.7 722.4,1625.2 724.1,1627.7 725.5,1630.4 726.9,1633.0 728.4,1635.7 729.8,1638.4 731.2,1641.0 732.6,1643.7 734.1,1646.3 735.5,1649.0 736.9,1651.7 738.3,1654.3 739.7,1657.0 741.0,1659.7 742.4,1662.4 743.8,1665.1 745.1,1667.8 746.6,1670.5 748.1,1673.1 749.6,1675.7 751.1,1678.3 752.7,1680.8 754.7,1683.2 756.7,1685.4 758.7,1687.6 761.1,1689.4 763.7,1690.9 766.4,1692.3 769.1,1693.7 771.9,1694.8 774.7,1695.9 777.5,1696.9 780.5,1697.6 783.5,1697.8 786.5,1698.1 789.5,1698.3 792.5,1698.5 795.5,1698.6 798.5,1698.7 801.5,1698.8 804.6,1698.9 807.6,1698.9 810.6,1699.0 813.6,1699.1 816.6,1699.1 819.7,1699.2 822.7,1699.3 825.7,1699.3 828.7,1699.4 831.7,1699.5 834.8,1699.6 837.8,1699.6 840.8,1699.7 L840.8,1700.2 L469.4,1700.2 Z" fill="url(#g16)"/>
<line x1="650.1" y1="1704.0" x2="650.1" y2="1611.5" stroke="#000" stroke-width="3.7" stroke-dasharray="12.5 12.6"/>
<path d="M469.4,1699.4 472.4,1699.4 475.4,1699.4 478.5,1699.4 481.5,1699.4 484.5,1699.4 487.5,1699.4 490.5,1699.3 493.6,1699.3 496.6,1699.3 499.6,1699.3 502.6,1699.3 505.6,1699.3 508.7,1699.3 511.7,1699.3 514.7,1699.2 517.7,1699.1 520.7,1699.1 523.8,1699.0 526.8,1698.9 529.8,1698.9 532.8,1698.8 535.8,1698.8 538.9,1698.7 541.9,1698.6 544.9,1698.6 547.9,1698.5 550.9,1698.4 554.0,1698.4 557.0,1698.3 560.0,1698.2 563.0,1698.1 566.0,1698.1 569.1,1698.0 572.1,1697.9 575.1,1697.8 578.1,1697.5 581.1,1697.0 584.1,1696.6 587.1,1696.2 590.1,1695.8 593.1,1695.5 596.1,1695.2 599.1,1694.8 602.0,1694.3 605.0,1693.6 607.9,1692.9 610.7,1691.8 613.5,1690.6 616.2,1689.3 618.8,1687.8 621.3,1686.1 623.8,1684.4 626.3,1682.7 628.8,1681.1 631.4,1679.5 634.0,1677.9 636.5,1676.3 639.0,1674.6 641.5,1672.9 643.9,1671.1 646.1,1669.0 648.3,1666.9 650.4,1664.8 652.5,1662.6 654.6,1660.4 656.6,1658.2 658.7,1656.0 660.7,1653.7 662.8,1651.6 665.1,1649.5 667.3,1647.5 669.6,1645.5 671.9,1643.5 674.2,1641.6 676.5,1639.7 678.9,1637.8 681.3,1636.0 683.6,1634.1 686.0,1632.2 688.4,1630.4 691.0,1628.9 693.7,1627.5 696.4,1626.1 698.8,1624.4 701.1,1622.5 703.4,1620.5 705.9,1618.8 708.6,1617.5 711.3,1616.6 714.1,1617.1 716.8,1618.3 718.9,1620.3 720.7,1622.7 722.4,1625.2 724.1,1627.7 725.5,1630.4 726.9,1633.0 728.4,1635.7 729.8,1638.4 731.2,1641.0 732.6,1643.7 734.1,1646.3 735.5,1649.0 736.9,1651.7 738.3,1654.3 739.7,1657.0 741.0,1659.7 742.4,1662.4 743.8,1665.1 745.1,1667.8 746.6,1670.5 748.1,1673.1 749.6,1675.7 751.1,1678.3 752.7,1680.8 754.7,1683.2 756.7,1685.4 758.7,1687.6 761.1,1689.4 763.7,1690.9 766.4,1692.3 769.1,1693.7 771.9,1694.8 774.7,1695.9 777.5,1696.9 780.5,1697.6 783.5,1697.8 786.5,1698.1 789.5,1698.3 792.5,1698.5 795.5,1698.6 798.5,1698.7 801.5,1698.8 804.6,1698.9 807.6,1698.9 810.6,1699.0 813.6,1699.1 816.6,1699.1 819.7,1699.2 822.7,1699.3 825.7,1699.3 828.7,1699.4 831.7,1699.5 834.8,1699.6 837.8,1699.6 840.8,1699.7" fill="none" stroke="#000" stroke-width="3.5" stroke-linejoin="round" stroke-linecap="butt"/>
<line x1="341" y1="1611.5" x2="341" y2="1705.8" stroke="#000" stroke-width="3.6"/>
<line x1="339.2" y1="1704.0" x2="1015" y2="1704.0" stroke="#000" stroke-width="3.8"/>
<text x="-0.3" y="1699.8" font-size="41.3" font-weight="bold" fill="#000">S. purpuratus</text>
<path d="M576.2,1800.3 579.2,1800.2 582.2,1800.2 585.3,1800.1 588.3,1800.0 591.3,1800.0 594.3,1799.8 597.3,1799.6 600.3,1799.4 603.3,1798.9 606.3,1798.3 609.2,1797.6 612.0,1796.7 614.9,1795.6 617.6,1794.4 620.3,1793.0 622.8,1791.4 625.0,1789.3 627.1,1787.2 629.2,1785.0 630.9,1782.5 632.6,1780.0 634.2,1777.5 635.5,1774.8 636.7,1772.0 637.9,1769.2 639.1,1766.4 640.2,1763.6 641.3,1760.8 642.3,1758.0 643.4,1755.1 644.4,1752.3 645.5,1749.5 646.6,1746.7 647.7,1743.9 648.9,1741.1 650.0,1738.3 651.3,1735.6 652.8,1732.9 654.2,1730.3 655.8,1727.7 657.5,1725.2 659.3,1722.8 661.3,1720.6 663.8,1719.1 666.5,1717.8 669.2,1717.6 672.0,1718.6 674.6,1720.0 676.6,1722.2 678.2,1724.7 679.9,1727.2 681.5,1729.7 683.1,1732.3 684.6,1734.9 686.1,1737.6 687.6,1740.2 689.1,1742.8 690.6,1745.4 692.1,1748.0 693.6,1750.7 695.1,1753.3 696.6,1755.9 698.2,1758.4 699.9,1760.9 701.6,1763.4 703.3,1765.9 705.0,1768.4 706.8,1770.8 708.6,1773.3 710.5,1775.6 712.8,1777.3 715.5,1778.8 718.1,1780.2 721.0,1780.7 723.9,1780.4 726.9,1780.0 729.9,1779.5 732.9,1778.9 735.8,1778.4 738.7,1778.5 741.6,1779.3 744.5,1780.1 747.5,1780.9 750.4,1781.5 753.4,1782.1 756.3,1782.7 759.3,1783.3 762.2,1783.9 765.0,1785.0 767.6,1786.5 770.2,1788.0 772.8,1789.5 775.5,1790.9 778.2,1792.3 780.9,1793.6 783.7,1794.8 786.6,1795.6 789.5,1796.4 792.4,1797.1 795.4,1797.6 798.4,1797.9 801.4,1798.2 804.4,1798.5 807.4,1798.8 810.4,1799.1 813.4,1799.3 816.4,1799.4 819.4,1799.4 822.5,1799.5 825.5,1799.6 828.5,1799.6 831.5,1799.7 834.5,1799.8 837.6,1799.8 840.6,1799.9 843.6,1799.9 846.6,1800.0 849.6,1800.1 852.6,1800.1 855.7,1800.2 858.7,1800.2 861.7,1800.3 L861.7,1800.9 L576.2,1800.9 Z" fill="url(#g17)"/>
<line x1="650.1" y1="1804.7" x2="650.1" y2="1712.2" stroke="#000" stroke-width="3.7" stroke-dasharray="12.5 12.6"/>
<path d="M576.2,1800.3 579.2,1800.2 582.2,1800.2 585.3,1800.1 588.3,1800.0 591.3,1800.0 594.3,1799.8 597.3,1799.6 600.3,1799.4 603.3,1798.9 606.3,1798.3 609.2,1797.6 612.0,1796.7 614.9,1795.6 617.6,1794.4 620.3,1793.0 622.8,1791.4 625.0,1789.3 627.1,1787.2 629.2,1785.0 630.9,1782.5 632.6,1780.0 634.2,1777.5 635.5,1774.8 636.7,1772.0 637.9,1769.2 639.1,1766.4 640.2,1763.6 641.3,1760.8 642.3,1758.0 643.4,1755.1 644.4,1752.3 645.5,1749.5 646.6,1746.7 647.7,1743.9 648.9,1741.1 650.0,1738.3 651.3,1735.6 652.8,1732.9 654.2,1730.3 655.8,1727.7 657.5,1725.2 659.3,1722.8 661.3,1720.6 663.8,1719.1 666.5,1717.8 669.2,1717.6 672.0,1718.6 674.6,1720.0 676.6,1722.2 678.2,1724.7 679.9,1727.2 681.5,1729.7 683.1,1732.3 684.6,1734.9 686.1,1737.6 687.6,1740.2 689.1,1742.8 690.6,1745.4 692.1,1748.0 693.6,1750.7 695.1,1753.3 696.6,1755.9 698.2,1758.4 699.9,1760.9 701.6,1763.4 703.3,1765.9 705.0,1768.4 706.8,1770.8 708.6,1773.3 710.5,1775.6 712.8,1777.3 715.5,1778.8 718.1,1780.2 721.0,1780.7 723.9,1780.4 726.9,1780.0 729.9,1779.5 732.9,1778.9 735.8,1778.4 738.7,1778.5 741.6,1779.3 744.5,1780.1 747.5,1780.9 750.4,1781.5 753.4,1782.1 756.3,1782.7 759.3,1783.3 762.2,1783.9 765.0,1785.0 767.6,1786.5 770.2,1788.0 772.8,1789.5 775.5,1790.9 778.2,1792.3 780.9,1793.6 783.7,1794.8 786.6,1795.6 789.5,1796.4 792.4,1797.1 795.4,1797.6 798.4,1797.9 801.4,1798.2 804.4,1798.5 807.4,1798.8 810.4,1799.1 813.4,1799.3 816.4,1799.4 819.4,1799.4 822.5,1799.5 825.5,1799.6 828.5,1799.6 831.5,1799.7 834.5,1799.8 837.6,1799.8 840.6,1799.9 843.6,1799.9 846.6,1800.0 849.6,1800.1 852.6,1800.1 855.7,1800.2 858.7,1800.2 861.7,1800.3" fill="none" stroke="#000" stroke-width="3.5" stroke-linejoin="round" stroke-linecap="butt"/>
<line x1="341" y1="1712.2" x2="341" y2="1806.5" stroke="#000" stroke-width="3.6"/>
<line x1="339.2" y1="1804.7" x2="1015" y2="1804.7" stroke="#000" stroke-width="3.8"/>
<text x="-0.3" y="1800.5" font-size="41.3" font-weight="bold" fill="#000">P. marinus</text>
<path d="M440.0,1900.8 443.0,1900.8 446.0,1900.8 449.1,1900.7 452.1,1900.7 455.1,1900.7 458.1,1900.7 461.1,1900.7 464.1,1900.6 467.2,1900.6 470.2,1900.6 473.2,1900.6 476.2,1900.6 479.2,1900.5 482.2,1900.5 485.3,1900.5 488.3,1900.5 491.3,1900.4 494.3,1900.4 497.3,1900.4 500.4,1900.4 503.4,1900.3 506.4,1900.3 509.4,1900.3 512.4,1900.3 515.4,1900.2 518.5,1900.2 521.5,1900.1 524.5,1899.9 527.5,1899.8 530.5,1899.7 533.5,1899.5 536.5,1899.4 539.6,1899.3 542.6,1899.1 545.6,1898.9 548.6,1898.5 551.6,1898.2 554.6,1897.8 557.6,1897.5 560.6,1897.0 563.5,1896.5 566.5,1895.9 569.4,1895.3 572.4,1894.7 575.4,1894.2 578.3,1893.6 581.3,1893.0 584.3,1892.5 587.2,1891.9 590.2,1891.3 593.1,1890.5 596.0,1889.6 598.8,1888.6 601.4,1887.2 604.0,1885.6 606.6,1884.0 609.1,1882.3 611.4,1880.4 613.8,1878.5 616.1,1876.6 618.3,1874.6 620.5,1872.4 622.6,1870.3 624.7,1868.2 626.8,1866.0 628.8,1863.7 630.8,1861.5 632.9,1859.3 634.8,1857.0 636.7,1854.6 638.5,1852.2 640.4,1849.8 642.2,1847.4 644.0,1845.0 645.7,1842.5 647.3,1840.0 649.0,1837.5 650.7,1835.0 652.6,1832.6 654.5,1830.3 656.4,1827.9 658.4,1825.7 660.7,1823.7 663.0,1821.8 665.4,1820.1 668.1,1818.7 670.8,1817.6 673.6,1817.8 676.4,1818.8 679.2,1820.1 681.7,1821.8 684.1,1823.5 686.5,1825.3 688.7,1827.4 690.6,1829.7 692.4,1832.1 694.3,1834.5 696.2,1836.9 698.0,1839.2 699.9,1841.6 701.7,1844.0 703.5,1846.4 705.3,1848.9 707.1,1851.3 708.8,1853.8 710.6,1856.2 712.4,1858.6 714.2,1861.1 716.0,1863.5 717.8,1865.8 719.7,1868.2 721.6,1870.6 723.7,1872.7 725.8,1874.9 728.0,1877.0 730.1,1879.2 732.3,1881.2 734.6,1883.2 736.9,1885.1 739.2,1887.0 741.6,1888.9 744.2,1890.3 747.0,1891.6 749.7,1892.7 752.5,1893.9 755.4,1894.9 758.3,1895.5 761.3,1896.0 764.3,1896.4 767.2,1896.9 770.2,1897.4 773.2,1897.8 776.2,1898.3 779.2,1898.6 782.2,1898.9 785.2,1899.1 788.2,1899.4 791.2,1899.6 794.2,1899.9 797.2,1900.0 800.3,1900.1 803.3,1900.2 806.3,1900.2 809.3,1900.3 812.3,1900.3 815.3,1900.4 818.4,1900.5 821.4,1900.5 824.4,1900.5 827.4,1900.6 830.4,1900.6 833.4,1900.6 836.5,1900.6 839.5,1900.6 842.5,1900.7 845.5,1900.7 848.5,1900.7 851.5,1900.7 854.6,1900.8 857.6,1900.8 860.6,1900.8 L860.6,1901.6 L440.0,1901.6 Z" fill="url(#g18)"/>
<line x1="650.1" y1="1905.4" x2="650.1" y2="1812.9" stroke="#000" stroke-width="3.7" stroke-dasharray="12.5 12.6"/>
<path d="M440.0,1900.8 443.0,1900.8 446.0,1900.8 449.1,1900.7 452.1,1900.7 455.1,1900.7 458.1,1900.7 461.1,1900.7 464.1,1900.6 467.2,1900.6 470.2,1900.6 473.2,1900.6 476.2,1900.6 479.2,1900.5 482.2,1900.5 485.3,1900.5 488.3,1900.5 491.3,1900.4 494.3,1900.4 497.3,1900.4 500.4,1900.4 503.4,1900.3 506.4,1900.3 509.4,1900.3 512.4,1900.3 515.4,1900.2 518.5,1900.2 521.5,1900.1 524.5,1899.9 527.5,1899.8 530.5,1899.7 533.5,1899.5 536.5,1899.4 539.6,1899.3 542.6,1899.1 545.6,1898.9 548.6,1898.5 551.6,1898.2 554.6,1897.8 557.6,1897.5 560.6,1897.0 563.5,1896.5 566.5,1895.9 569.4,1895.3 572.4,1894.7 575.4,1894.2 578.3,1893.6 581.3,1893.0 584.3,1892.5 587.2,1891.9 590.2,1891.3 593.1,1890.5 596.0,1889.6 598.8,1888.6 601.4,1887.2 604.0,1885.6 606.6,1884.0 609.1,1882.3 611.4,1880.4 613.8,1878.5 616.1,1876.6 618.3,1874.6 620.5,1872.4 622.6,1870.3 624.7,1868.2 626.8,1866.0 628.8,1863.7 630.8,1861.5 632.9,1859.3 634.8,1857.0 636.7,1854.6 638.5,1852.2 640.4,1849.8 642.2,1847.4 644.0,1845.0 645.7,1842.5 647.3,1840.0 649.0,1837.5 650.7,1835.0 652.6,1832.6 654.5,1830.3 656.4,1827.9 658.4,1825.7 660.7,1823.7 663.0,1821.8 665.4,1820.1 668.1,1818.7 670.8,1817.6 673.6,1817.8 676.4,1818.8 679.2,1820.1 681.7,1821.8 684.1,1823.5 686.5,1825.3 688.7,1827.4 690.6,1829.7 692.4,1832.1 694.3,1834.5 696.2,1836.9 698.0,1839.2 699.9,1841.6 701.7,1844.0 703.5,1846.4 705.3,1848.9 707.1,1851.3 708.8,1853.8 710.6,1856.2 712.4,1858.6 714.2,1861.1 716.0,1863.5 717.8,1865.8 719.7,1868.2 721.6,1870.6 723.7,1872.7 725.8,1874.9 728.0,1877.0 730.1,1879.2 732.3,1881.2 734.6,1883.2 736.9,1885.1 739.2,1887.0 741.6,1888.9 744.2,1890.3 747.0,1891.6 749.7,1892.7 752.5,1893.9 755.4,1894.9 758.3,1895.5 761.3,1896.0 764.3,1896.4 767.2,1896.9 770.2,1897.4 773.2,1897.8 776.2,1898.3 779.2,1898.6 782.2,1898.9 785.2,1899.1 788.2,1899.4 791.2,1899.6 794.2,1899.9 797.2,1900.0 800.3,1900.1 803.3,1900.2 806.3,1900.2 809.3,1900.3 812.3,1900.3 815.3,1900.4 818.4,1900.5 821.4,1900.5 824.4,1900.5 827.4,1900.6 830.4,1900.6 833.4,1900.6 836.5,1900.6 839.5,1900.6 842.5,1900.7 845.5,1900.7 848.5,1900.7 851.5,1900.7 854.6,1900.8 857.6,1900.8 860.6,1900.8" fill="none" stroke="#000" stroke-width="3.5" stroke-linejoin="round" stroke-linecap="butt"/>
<line x1="341" y1="1812.9" x2="341" y2="1907.2" stroke="#000" stroke-width="3.6"/>
<line x1="339.2" y1="1905.4" x2="1015" y2="1905.4" stroke="#000" stroke-width="3.8"/>
<text x="-0.3" y="1901.1" font-size="41.3" font-weight="bold" fill="#000">M. musculus</text>
<path d="M511.5,2031.3 514.5,2031.2 517.5,2031.2 520.5,2031.1 523.5,2031.1 526.6,2031.0 529.6,2030.9 532.6,2030.9 535.6,2030.8 538.6,2030.8 541.6,2030.7 544.6,2030.7 547.6,2030.6 550.6,2030.6 553.7,2030.5 556.7,2030.4 559.7,2030.3 562.7,2030.2 565.7,2030.1 568.7,2029.9 571.7,2029.7 574.7,2029.3 577.7,2029.0 580.7,2028.6 583.6,2028.1 586.6,2027.5 589.5,2026.8 592.4,2026.0 595.2,2024.8 597.9,2023.6 600.7,2022.3 603.3,2020.9 605.9,2019.4 608.6,2018.0 611.2,2016.5 613.8,2015.1 616.5,2013.6 619.1,2012.1 621.5,2010.4 623.9,2008.5 626.2,2006.6 628.6,2004.7 630.8,2002.7 633.0,2000.6 635.2,1998.5 637.2,1996.4 639.0,1993.9 640.7,1991.4 642.3,1988.9 643.9,1986.4 645.5,1983.8 647.1,1981.2 648.7,1978.7 650.7,1976.6 653.0,1974.6 655.4,1972.7 657.8,1971.0 660.4,1969.5 663.1,1968.0 665.7,1966.6 668.3,1965.1 671.0,1963.6 673.6,1962.2 676.3,1960.8 679.0,1959.5 681.7,1958.2 684.4,1956.8 686.8,1955.0 689.1,1953.1 691.4,1951.2 693.3,1948.9 695.0,1946.4 696.7,1943.9 698.3,1941.4 700.0,1938.9 701.9,1936.6 703.9,1934.3 705.9,1932.1 708.0,1929.9 710.3,1928.0 712.8,1926.2 715.2,1924.4 717.7,1922.8 720.2,1921.2 722.8,1919.7 725.5,1919.4 728.3,1920.5 730.9,1921.9 733.1,1923.9 735.0,1926.2 736.6,1928.7 738.0,1931.4 739.3,1934.1 740.5,1936.9 741.6,1939.7 742.6,1942.5 743.7,1945.3 744.7,1948.2 745.7,1951.0 746.8,1953.8 747.8,1956.6 749.0,1959.4 750.1,1962.2 751.3,1965.0 752.4,1967.8 753.6,1970.6 754.7,1973.3 755.9,1976.1 757.1,1978.9 758.2,1981.7 759.4,1984.4 760.8,1987.1 762.1,1989.8 763.4,1992.5 764.9,1995.2 766.3,1997.8 767.8,2000.4 769.3,2003.1 770.8,2005.7 772.3,2008.3 773.9,2010.8 775.6,2013.3 777.5,2015.6 779.5,2017.8 781.9,2019.7 784.4,2021.3 786.9,2022.9 789.6,2024.4 792.3,2025.7 795.0,2027.0 797.9,2027.9 800.8,2028.7 803.7,2029.2 806.7,2029.5 809.7,2029.8 812.7,2030.1 815.7,2030.3 818.7,2030.4 821.7,2030.5 824.7,2030.6 827.8,2030.7 830.8,2030.8 833.8,2030.9 836.8,2031.0 839.7,2031.1 841.3,2031.2 L841.3,2031.7 L511.5,2031.7 Z" fill="url(#g19)"/>
<line x1="650.1" y1="2036.8" x2="650.1" y2="1913.6" stroke="#000" stroke-width="3.7" stroke-dasharray="12.5 12.6"/>
<path d="M511.5,2031.3 514.5,2031.2 517.5,2031.2 520.5,2031.1 523.5,2031.1 526.6,2031.0 529.6,2030.9 532.6,2030.9 535.6,2030.8 538.6,2030.8 541.6,2030.7 544.6,2030.7 547.6,2030.6 550.6,2030.6 553.7,2030.5 556.7,2030.4 559.7,2030.3 562.7,2030.2 565.7,2030.1 568.7,2029.9 571.7,2029.7 574.7,2029.3 577.7,2029.0 580.7,2028.6 583.6,2028.1 586.6,2027.5 589.5,2026.8 592.4,2026.0 595.2,2024.8 597.9,2023.6 600.7,2022.3 603.3,2020.9 605.9,2019.4 608.6,2018.0 611.2,2016.5 613.8,2015.1 616.5,2013.6 619.1,2012.1 621.5,2010.4 623.9,2008.5 626.2,2006.6 628.6,2004.7 630.8,2002.7 633.0,2000.6 635.2,1998.5 637.2,1996.4 639.0,1993.9 640.7,1991.4 642.3,1988.9 643.9,1986.4 645.5,1983.8 647.1,1981.2 648.7,1978.7 650.7,1976.6 653.0,1974.6 655.4,1972.7 657.8,1971.0 660.4,1969.5 663.1,1968.0 665.7,1966.6 668.3,1965.1 671.0,1963.6 673.6,1962.2 676.3,1960.8 679.0,1959.5 681.7,1958.2 684.4,1956.8 686.8,1955.0 689.1,1953.1 691.4,1951.2 693.3,1948.9 695.0,1946.4 696.7,1943.9 698.3,1941.4 700.0,1938.9 701.9,1936.6 703.9,1934.3 705.9,1932.1 708.0,1929.9 710.3,1928.0 712.8,1926.2 715.2,1924.4 717.7,1922.8 720.2,1921.2 722.8,1919.7 725.5,1919.4 728.3,1920.5 730.9,1921.9 733.1,1923.9 735.0,1926.2 736.6,1928.7 738.0,1931.4 739.3,1934.1 740.5,1936.9 741.6,1939.7 742.6,1942.5 743.7,1945.3 744.7,1948.2 745.7,1951.0 746.8,1953.8 747.8,1956.6 749.0,1959.4 750.1,1962.2 751.3,1965.0 752.4,1967.8 753.6,1970.6 754.7,1973.3 755.9,1976.1 757.1,1978.9 758.2,1981.7 759.4,1984.4 760.8,1987.1 762.1,1989.8 763.4,1992.5 764.9,1995.2 766.3,1997.8 767.8,2000.4 769.3,2003.1 770.8,2005.7 772.3,2008.3 773.9,2010.8 775.6,2013.3 777.5,2015.6 779.5,2017.8 781.9,2019.7 784.4,2021.3 786.9,2022.9 789.6,2024.4 792.3,2025.7 795.0,2027.0 797.9,2027.9 800.8,2028.7 803.7,2029.2 806.7,2029.5 809.7,2029.8 812.7,2030.1 815.7,2030.3 818.7,2030.4 821.7,2030.5 824.7,2030.6 827.8,2030.7 830.8,2030.8 833.8,2030.9 836.8,2031.0 839.7,2031.1 841.3,2031.2" fill="none" stroke="#000" stroke-width="3.5" stroke-linejoin="round" stroke-linecap="butt"/>
<line x1="341" y1="1913.6" x2="341" y2="2038.6" stroke="#000" stroke-width="3.6"/>
<line x1="339.2" y1="2036.8" x2="1015" y2="2036.8" stroke="#000" stroke-width="3.8"/>
<text x="-0.3" y="2001.8" font-size="41.3" font-weight="bold" fill="#000">H. sapiens</text>
<line x1="482.7" y1="2038.6" x2="482.7" y2="2044.8" stroke="#333" stroke-width="3.4"/>
<text x="482.7" y="2069.5" font-size="26.2" fill="#4d4d4d" text-anchor="middle">−3</text>
<line x1="650.1" y1="2038.6" x2="650.1" y2="2044.8" stroke="#333" stroke-width="3.4"/>
<text x="650.1" y="2069.5" font-size="26.2" fill="#4d4d4d" text-anchor="middle">0</text>
<line x1="817.5" y1="2038.6" x2="817.5" y2="2044.8" stroke="#333" stroke-width="3.4"/>
<text x="817.5" y="2069.5" font-size="26.2" fill="#4d4d4d" text-anchor="middle">3</text>
<line x1="984.9" y1="2038.6" x2="984.9" y2="2044.8" stroke="#333" stroke-width="3.4"/>
<text x="984.9" y="2069.5" font-size="26.2" fill="#4d4d4d" text-anchor="middle">6</text>
<text x="678.5" y="2106" font-size="32.4" fill="#000" text-anchor="middle">log10(Pause Index)</text>
</svg></body></html>
